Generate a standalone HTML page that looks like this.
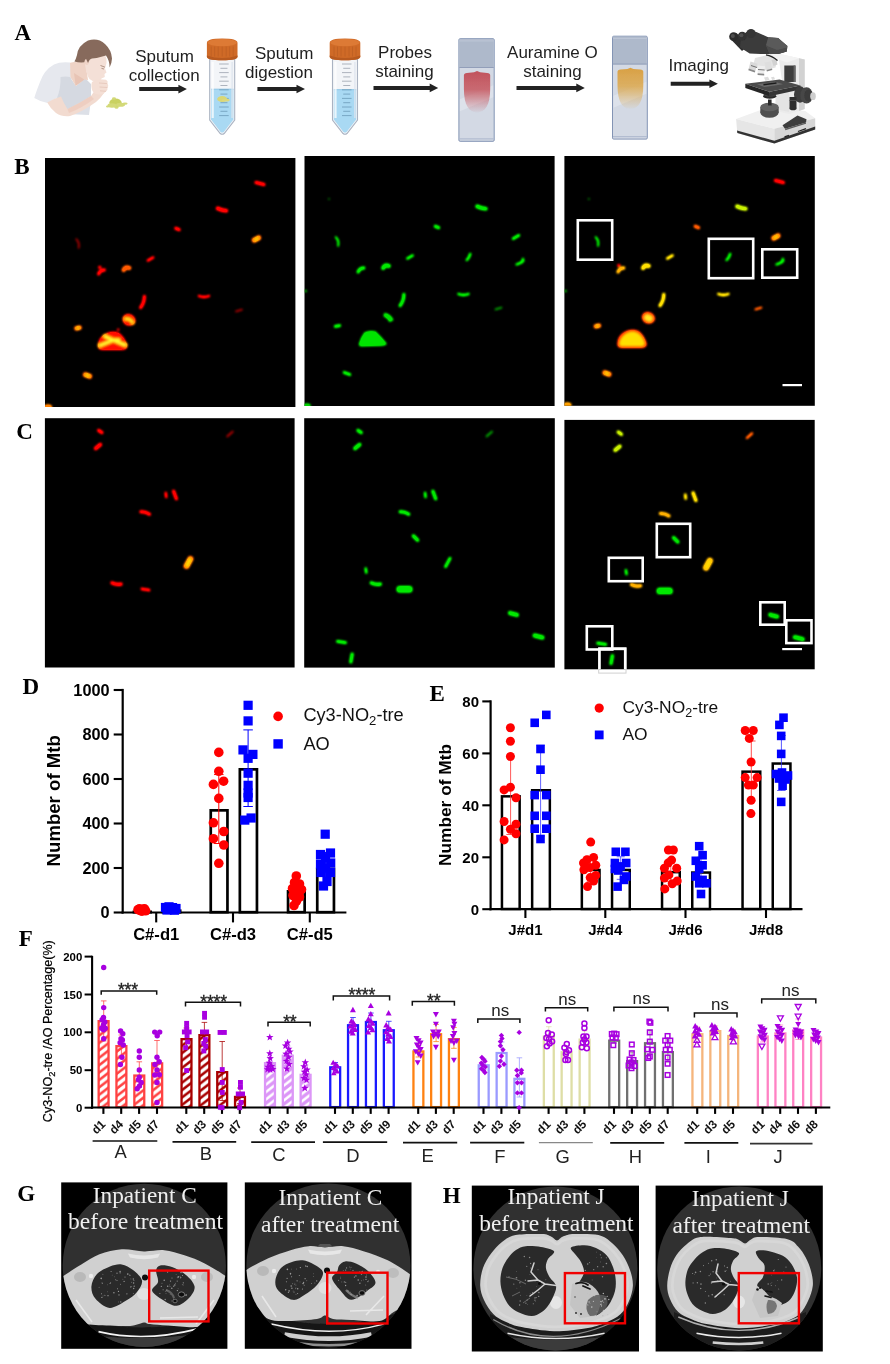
<!DOCTYPE html>
<html><head><meta charset="utf-8"><title>Figure</title>
<style>
html,body{margin:0;padding:0;background:#fff;}
body{width:890px;height:1364px;overflow:hidden;font-family:"Liberation Sans",sans-serif;}
svg{display:block;will-change:transform;}
</style></head><body>
<svg font-family="Liberation Sans, sans-serif" width="890" height="1364" viewBox="0 0 890 1364">
<rect width="890" height="1364" fill="#fff"/>
<defs><filter id="bl" x="-5%" y="-5%" width="110%" height="110%"><feGaussianBlur stdDeviation="0.8"/><feComponentTransfer><feFuncA type="linear" slope="1.5"/></feComponentTransfer></filter>
<clipPath id="cpB1"><rect x="45" y="157.5" width="250.4" height="249.5"/></clipPath>
<clipPath id="cpB2"><rect x="304.5" y="156" width="250.1" height="250"/></clipPath>
<clipPath id="cpB3"><rect x="564.4" y="156" width="250.4" height="249.8"/></clipPath>
<clipPath id="cpC1"><rect x="44.9" y="418.2" width="249.7" height="249.3"/></clipPath>
<clipPath id="cpC2"><rect x="304.2" y="418.2" width="250.6" height="249.4"/></clipPath>
<clipPath id="cpC3"><rect x="564.4" y="419.9" width="250.3" height="249.4"/></clipPath>
</defs>
<rect x="45" y="158" width="250.4" height="249" fill="#000"/>
<g clip-path="url(#cpB1)" filter="url(#bl)">
<path d="M256.1 182.5Q260.0 183.5 263.9 184.5" stroke="#ff0000" stroke-width="3.04" stroke-linecap="round" fill="none"/>
<path d="M217.7 208.3Q221.7 210.5 226.3 210.7" stroke="#ff0000" stroke-width="3.61" stroke-linecap="round" fill="none"/>
<path d="M175.9 228.4Q177.5 229.0 179.1 229.6" stroke="#ff0000" stroke-width="3.04" stroke-linecap="round" fill="none"/>
<path d="M254.3 240.2Q256.5 239.0 258.7 237.8" stroke="#ff5a00" stroke-width="4.75" stroke-linecap="round" fill="none"/>
<path d="M254.8 240.0Q256.5 239.0 258.2 238.0" stroke="#ffe000" stroke-width="2.35" stroke-linecap="round" fill="none"/>
<path d="M76.3 239.2Q79.8 242.9 78.7 247.8" stroke="#7a0000" stroke-width="1.71" stroke-linecap="round" fill="none"/>
<path d="M147.9 260.5Q150.5 259.0 153.1 257.5" stroke="#ff0000" stroke-width="2.4699999999999998" stroke-linecap="round" fill="none"/>
<path d="M98.6 274.0Q100.1 270.0 104.4 270.0" stroke="#ff0000" stroke-width="2.8499999999999996" stroke-linecap="round" fill="none"/>
<path d="M123.7 270.0Q125.5 266.2 129.3 268.0" stroke="#ff5a00" stroke-width="3.8" stroke-linecap="round" fill="none"/>
<path d="M140.6 307.7Q144.4 302.6 144.4 296.3" stroke="#ff0000" stroke-width="2.8499999999999996" stroke-linecap="round" fill="none"/>
<path d="M199.0 296.0Q204.0 298.0 209.0 296.0" stroke="#ff0000" stroke-width="2.28" stroke-linecap="round" fill="none"/>
<path d="M236.1 311.4Q239.0 310.5 241.9 309.6" stroke="#7a0000" stroke-width="1.9" stroke-linecap="round" fill="none"/>
<path d="M76.5 328.3Q78.0 328.0 79.5 327.7" stroke="#ff5a00" stroke-width="4.369999999999999" stroke-linecap="round" fill="none"/>
<path d="M77.0 328.2Q78.0 328.0 79.0 327.8" stroke="#ffe000" stroke-width="1.9699999999999993" stroke-linecap="round" fill="none"/>
<path d="M85.4 374.7Q87.5 375.5 89.6 376.3" stroke="#ff5a00" stroke-width="4.75" stroke-linecap="round" fill="none"/>
<path d="M85.9 374.9Q87.5 375.5 89.1 376.1" stroke="#ffe000" stroke-width="2.35" stroke-linecap="round" fill="none"/>
<path d="M98 346Q98 338 105 334Q112 330 119 333Q125 337 127.3 346Q127.3 350 121 350L103 350Q98 350 98 346Z" fill="#ff0800"/>
<path d="M100.2 345.4L113.3 340.1L124.9 345M105.2 336.5L113.3 340.1L118.7 340.1" stroke="#ff8800" stroke-width="5" fill="none" stroke-linecap="round" stroke-linejoin="round"/>
<path d="M100.2 345.4L113.3 340.1L124.9 345M105.2 336.5L113.3 340.1L118.7 340.1" stroke="#ffff30" stroke-width="2.6" fill="none" stroke-linecap="round" stroke-linejoin="round"/>
<ellipse cx="129" cy="319.8" rx="6.6" ry="5.6" fill="#ff1800" transform="rotate(25 129 319.8)"/>
<path d="M125.4 318.9Q130.5 318.5 132.6 322.5" stroke="#ff8000" stroke-width="4.4" fill="none" stroke-linecap="round"/>
<path d="M125.8 318.9Q130.5 318.7 132.2 322.2" stroke="#ffee20" stroke-width="2.2" fill="none" stroke-linecap="round"/>
<circle cx="118.2" cy="329.8" r="1.2" fill="#e00000"/>
<circle cx="99.8" cy="267.2" r="1.5" fill="#ff0000"/>
<ellipse cx="48" cy="407" rx="4" ry="2.6" fill="#ff8000"/>
</g>
<rect x="304.5" y="156" width="250.1" height="250" fill="#000"/>
<g clip-path="url(#cpB2)" filter="url(#bl)">
<path d="M477.2 206.3Q481.2 208.5 485.8 208.7" stroke="#00e800" stroke-width="3.61" stroke-linecap="round" fill="none"/>
<path d="M435.4 226.4Q437.0 227.0 438.6 227.6" stroke="#00e800" stroke-width="3.04" stroke-linecap="round" fill="none"/>
<path d="M513.2 238.6Q516.0 237.0 518.8 235.4" stroke="#00e800" stroke-width="2.7" stroke-linecap="round" fill="none"/>
<path d="M335.8 237.2Q339.3 240.9 338.2 245.8" stroke="#00e800" stroke-width="1.71" stroke-linecap="round" fill="none"/>
<path d="M407.4 258.5Q410.0 257.0 412.6 255.5" stroke="#00e800" stroke-width="2.4699999999999998" stroke-linecap="round" fill="none"/>
<path d="M358.1 272.0Q359.6 268.0 363.9 268.0" stroke="#00e800" stroke-width="2.8499999999999996" stroke-linecap="round" fill="none"/>
<path d="M383.2 268.0Q385.0 264.2 388.8 266.0" stroke="#00e800" stroke-width="3.8" stroke-linecap="round" fill="none"/>
<path d="M466.8 260.0Q469.4 257.5 470.2 254.0" stroke="#00e800" stroke-width="2.28" stroke-linecap="round" fill="none"/>
<path d="M400.1 305.7Q403.9 300.6 403.9 294.3" stroke="#00e800" stroke-width="2.8499999999999996" stroke-linecap="round" fill="none"/>
<path d="M458.5 294.0Q463.5 296.0 468.5 294.0" stroke="#00e800" stroke-width="2.28" stroke-linecap="round" fill="none"/>
<path d="M495.6 309.4Q498.5 308.5 501.4 307.6" stroke="#007800" stroke-width="1.9" stroke-linecap="round" fill="none"/>
<path d="M335.3 326.4Q337.5 326.0 339.7 325.6" stroke="#00e800" stroke-width="2.7" stroke-linecap="round" fill="none"/>
<path d="M344.2 372.5Q347.0 373.5 349.8 374.5" stroke="#00e800" stroke-width="2.7" stroke-linecap="round" fill="none"/>
<path d="M516.5 264.5Q520.6 263.5 523.5 260.5" stroke="#00e800" stroke-width="2.09" stroke-linecap="round" fill="none"/>
<path d="M328.8 199.0Q329.0 199.0 329.2 199.0" stroke="#007800" stroke-width="1.52" stroke-linecap="round" fill="none"/>
<path d="M359.0 344Q360.5 338 364.5 332.5Q369.5 330 375.5 331.5Q381.5 337 386.5 343.5Q386.5 345.5 380.5 345.8L362.5 346.3Q359.0 346.5 359.0 344Z" fill="#00e400"/>
<path d="M384.5 313Q390.5 314 393.5 320L389.5 322Q387.5 318 383.5 316Z" fill="#00e000"/>
<ellipse cx="307.0" cy="405.5" rx="3.6" ry="2" fill="#00d000"/>
<ellipse cx="305.5" cy="291" rx="1.5" ry="1" fill="#00b000"/>
<path d="M522.0 262.4Q522.5 260.5 523.0 258.6" stroke="#00e800" stroke-width="1.8" stroke-linecap="round" fill="none"/>
</g>
<rect x="564.4" y="156" width="250.4" height="249.8" fill="#000"/>
<g clip-path="url(#cpB3)" filter="url(#bl)">
<path d="M775.5 180.5Q779.4 181.5 783.3 182.5" stroke="#ff0000" stroke-width="3.04" stroke-linecap="round" fill="none"/>
<path d="M737.1 206.3Q741.1 208.5 745.7 208.7" stroke="#c8f000" stroke-width="3.61" stroke-linecap="round" fill="none"/>
<path d="M695.3 226.4Q696.9 227.0 698.5 227.6" stroke="#ff5a00" stroke-width="3.04" stroke-linecap="round" fill="none"/>
<path d="M773.7 238.2Q775.9 237.0 778.1 235.8" stroke="#ff5a00" stroke-width="4.75" stroke-linecap="round" fill="none"/>
<path d="M774.2 238.0Q775.9 237.0 777.6 236.0" stroke="#ffe000" stroke-width="2.35" stroke-linecap="round" fill="none"/>
<path d="M595.7 237.2Q599.2 240.9 598.1 245.8" stroke="#00e800" stroke-width="1.71" stroke-linecap="round" fill="none"/>
<path d="M667.3 258.5Q669.9 257.0 672.5 255.5" stroke="#ffe000" stroke-width="2.4699999999999998" stroke-linecap="round" fill="none"/>
<path d="M618.0 272.0Q619.5 268.0 623.8 268.0" stroke="#ffb000" stroke-width="2.8499999999999996" stroke-linecap="round" fill="none"/>
<path d="M643.1 268.0Q644.9 264.2 648.7 266.0" stroke="#ffe000" stroke-width="3.8" stroke-linecap="round" fill="none"/>
<path d="M726.6 260.0Q729.3 257.5 730.1 254.0" stroke="#00e800" stroke-width="2.28" stroke-linecap="round" fill="none"/>
<path d="M660.0 305.7Q663.8 300.6 663.8 294.3" stroke="#ffe000" stroke-width="2.8499999999999996" stroke-linecap="round" fill="none"/>
<path d="M718.4 294.0Q723.4 296.0 728.4 294.0" stroke="#ffe000" stroke-width="2.28" stroke-linecap="round" fill="none"/>
<path d="M755.5 309.4Q758.4 308.5 761.3 307.6" stroke="#ff5a00" stroke-width="1.9" stroke-linecap="round" fill="none"/>
<path d="M595.9 326.3Q597.4 326.0 598.9 325.7" stroke="#ff5a00" stroke-width="4.369999999999999" stroke-linecap="round" fill="none"/>
<path d="M596.4 326.2Q597.4 326.0 598.4 325.8" stroke="#ffe000" stroke-width="1.9699999999999993" stroke-linecap="round" fill="none"/>
<path d="M604.8 372.7Q606.9 373.5 609.0 374.3" stroke="#ff5a00" stroke-width="4.75" stroke-linecap="round" fill="none"/>
<path d="M605.3 372.9Q606.9 373.5 608.5 374.1" stroke="#ffe000" stroke-width="2.35" stroke-linecap="round" fill="none"/>
<path d="M776.4 264.5Q780.5 263.5 783.4 260.5" stroke="#00e800" stroke-width="2.09" stroke-linecap="round" fill="none"/>
<path d="M588.6 199.0Q588.9 199.0 589.1 199.0" stroke="#007800" stroke-width="1.52" stroke-linecap="round" fill="none"/>
<path d="M617.4 344Q617.4 336 624.4 332Q631.4 328 638.4 331Q644.4 335 646.6999999999999 344Q646.6999999999999 348 640.4 348L622.4 348Q617.4 348 617.4 344Z" fill="#ff3000"/>
<path d="M619.4 344Q620.4 337 626.4 333.5Q631.4 330.5 637.4 333Q642.9 336.5 644.6999999999999 344Q644.4 346 640.4 346L622.4 346Q619.4 346 619.4 344Z" fill="#ffe000"/>
<ellipse cx="648.4" cy="317.8" rx="6.6" ry="5.6" fill="#ff3800" transform="rotate(25 648.4 317.8)"/>
<ellipse cx="648.4" cy="318" rx="4.4" ry="3.2" fill="#ffe820" transform="rotate(25 648.4 318)"/>
<ellipse cx="567.4" cy="405" rx="4" ry="2.6" fill="#ffa000"/>
<ellipse cx="565.4" cy="291" rx="1.5" ry="1" fill="#00b000"/>
<circle cx="618.9" cy="265.5" r="1.6" fill="#ff0000"/>
<path d="M781.9 262.4Q782.4 260.5 782.9 258.6" stroke="#00e800" stroke-width="1.8" stroke-linecap="round" fill="none"/>
</g>
<rect x="44.9" y="418.2" width="249.7" height="249.3" fill="#000"/>
<g clip-path="url(#cpC1)" filter="url(#bl)">
<path d="M98.7 430.4Q100.3 431.5 101.9 432.6" stroke="#ff0000" stroke-width="2.9899999999999998" stroke-linecap="round" fill="none"/>
<path d="M95.7 448.4Q98.0 446.5 100.3 444.6" stroke="#ff0000" stroke-width="3.4499999999999997" stroke-linecap="round" fill="none"/>
<path d="M227.4 436.3Q230.0 434.0 232.6 431.7" stroke="#7a0000" stroke-width="2.07" stroke-linecap="round" fill="none"/>
<path d="M165.8 493.0Q166.0 495.0 166.2 497.0" stroke="#ff0000" stroke-width="2.3" stroke-linecap="round" fill="none"/>
<path d="M173.6 491.2Q175.0 495.0 176.4 498.8" stroke="#ff0000" stroke-width="2.9899999999999998" stroke-linecap="round" fill="none"/>
<path d="M140.9 511.8Q145.6 511.5 149.5 514.2" stroke="#ff0000" stroke-width="2.9899999999999998" stroke-linecap="round" fill="none"/>
<path d="M186.6 566.0Q188.5 562.5 190.4 559.0" stroke="#ff5a00" stroke-width="5.75" stroke-linecap="round" fill="none"/>
<path d="M186.9 565.6Q188.5 562.5 190.1 559.4" stroke="#ffe000" stroke-width="3.35" stroke-linecap="round" fill="none"/>
<path d="M112.0 582.9Q116.3 585.1 121.0 584.1" stroke="#ff0000" stroke-width="3.2199999999999998" stroke-linecap="round" fill="none"/>
<path d="M142.0 589.0Q145.5 589.5 149.0 590.0" stroke="#ff0000" stroke-width="2.76" stroke-linecap="round" fill="none"/>
</g>
<rect x="304.2" y="418.2" width="250.6" height="249.4" fill="#000"/>
<g clip-path="url(#cpC2)" filter="url(#bl)">
<path d="M358.0 430.4Q359.6 431.5 361.2 432.6" stroke="#00e800" stroke-width="2.9899999999999998" stroke-linecap="round" fill="none"/>
<path d="M355.0 448.4Q357.3 446.5 359.6 444.6" stroke="#00e800" stroke-width="3.4499999999999997" stroke-linecap="round" fill="none"/>
<path d="M486.7 436.3Q489.3 434.0 491.9 431.7" stroke="#007800" stroke-width="2.07" stroke-linecap="round" fill="none"/>
<path d="M425.1 493.0Q425.3 495.0 425.5 497.0" stroke="#00e800" stroke-width="2.3" stroke-linecap="round" fill="none"/>
<path d="M432.9 491.2Q434.3 495.0 435.7 498.8" stroke="#00e800" stroke-width="2.9899999999999998" stroke-linecap="round" fill="none"/>
<path d="M400.2 511.8Q404.9 511.5 408.8 514.2" stroke="#00e800" stroke-width="2.9899999999999998" stroke-linecap="round" fill="none"/>
<path d="M445.6 566.7Q447.8 562.5 450.0 558.3" stroke="#00e800" stroke-width="2.7" stroke-linecap="round" fill="none"/>
<path d="M365.7 568.5Q366.0 570.5 366.3 572.5" stroke="#00e800" stroke-width="2.3" stroke-linecap="round" fill="none"/>
<path d="M371.3 582.9Q375.6 585.1 380.3 584.1" stroke="#00e800" stroke-width="3.2199999999999998" stroke-linecap="round" fill="none"/>
<path d="M399.8 589.2Q404.5 589.2 409.2 589.2" stroke="#00e800" stroke-width="6.4399999999999995" stroke-linecap="round" fill="none"/>
<path d="M413.4 535.9Q415.5 538.0 417.6 540.1" stroke="#00e800" stroke-width="3.2199999999999998" stroke-linecap="round" fill="none"/>
<path d="M337.5 641.4Q341.5 642.0 345.5 642.6" stroke="#00e800" stroke-width="2.76" stroke-linecap="round" fill="none"/>
<path d="M350.8 661.9Q351.5 658.0 352.2 654.1" stroke="#00e800" stroke-width="2.9899999999999998" stroke-linecap="round" fill="none"/>
<path d="M510.1 613.1Q513.5 614.0 516.9 614.9" stroke="#00e800" stroke-width="3.9099999999999997" stroke-linecap="round" fill="none"/>
<path d="M534.6 635.5Q538.5 636.5 542.4 637.5" stroke="#00e800" stroke-width="3.9099999999999997" stroke-linecap="round" fill="none"/>
</g>
<rect x="564.4" y="419.9" width="250.3" height="249.4" fill="#000"/>
<g clip-path="url(#cpC3)" filter="url(#bl)">
<path d="M618.2 432.1Q619.8 433.2 621.4 434.3" stroke="#c8f000" stroke-width="2.9899999999999998" stroke-linecap="round" fill="none"/>
<path d="M615.2 450.1Q617.5 448.2 619.8 446.3" stroke="#c8f000" stroke-width="3.4499999999999997" stroke-linecap="round" fill="none"/>
<path d="M746.9 438.0Q749.5 435.7 752.1 433.4" stroke="#ff5a00" stroke-width="2.07" stroke-linecap="round" fill="none"/>
<path d="M685.3 494.7Q685.5 496.7 685.7 498.7" stroke="#ffe000" stroke-width="2.3" stroke-linecap="round" fill="none"/>
<path d="M693.1 492.9Q694.5 496.7 695.9 500.5" stroke="#ffe000" stroke-width="2.9899999999999998" stroke-linecap="round" fill="none"/>
<path d="M660.4 513.5Q665.1 513.2 669.0 515.9" stroke="#ffb000" stroke-width="2.9899999999999998" stroke-linecap="round" fill="none"/>
<path d="M706.1 567.7Q708.0 564.2 709.9 560.7" stroke="#ffb000" stroke-width="5.75" stroke-linecap="round" fill="none"/>
<path d="M706.4 567.3Q708.0 564.2 709.6 561.1" stroke="#ffe000" stroke-width="3.35" stroke-linecap="round" fill="none"/>
<path d="M625.9 570.2Q626.2 572.2 626.5 574.2" stroke="#00e800" stroke-width="2.3" stroke-linecap="round" fill="none"/>
<path d="M631.5 584.6Q635.8 586.8 640.5 585.8" stroke="#ffb000" stroke-width="3.2199999999999998" stroke-linecap="round" fill="none"/>
<path d="M659.9 590.9Q664.7 590.9 669.4 590.9" stroke="#00e800" stroke-width="6.4399999999999995" stroke-linecap="round" fill="none"/>
<path d="M673.6 537.6Q675.7 539.7 677.8 541.8" stroke="#00e800" stroke-width="3.2199999999999998" stroke-linecap="round" fill="none"/>
<path d="M597.7 643.1Q601.7 643.7 605.7 644.3" stroke="#00e800" stroke-width="2.76" stroke-linecap="round" fill="none"/>
<path d="M611.0 663.6Q611.7 659.7 612.4 655.8" stroke="#00e800" stroke-width="2.9899999999999998" stroke-linecap="round" fill="none"/>
<path d="M770.3 614.8Q773.7 615.7 777.1 616.6" stroke="#00e800" stroke-width="3.9099999999999997" stroke-linecap="round" fill="none"/>
<path d="M794.8 637.2Q798.7 638.2 802.6 639.2" stroke="#00e800" stroke-width="3.9099999999999997" stroke-linecap="round" fill="none"/>
</g>
<rect x="577.8" y="220.3" width="34.4" height="39.4" fill="none" stroke="#fff" stroke-width="2.6"/>
<rect x="708.8" y="238.8" width="44.4" height="39.4" fill="none" stroke="#fff" stroke-width="2.6"/>
<rect x="762.3" y="249.3" width="34.9" height="28.4" fill="none" stroke="#fff" stroke-width="2.6"/>
<rect x="782.5" y="384" width="19.5" height="2.2" fill="#fff"/>
<rect x="598.7" y="647.7" width="27.3" height="25.4" fill="none" stroke="#d0d0d0" stroke-width="1"/>
<g clip-path="url(#cpC3)">
<rect x="656.8" y="523.8" width="33.4" height="33.4" fill="none" stroke="#fff" stroke-width="2.6"/>
<rect x="608.8" y="557.8" width="33.9" height="23.4" fill="none" stroke="#fff" stroke-width="2.6"/>
<rect x="760.3" y="602.3" width="24.4" height="22.4" fill="none" stroke="#fff" stroke-width="2.6"/>
<rect x="786.3" y="620.3" width="25.2" height="22.8" fill="none" stroke="#fff" stroke-width="2.6"/>
<rect x="586.8" y="626.3" width="25.5" height="23.2" fill="none" stroke="#fff" stroke-width="2.6"/>
<rect x="599.5" y="648.9" width="25.7" height="23.1" fill="none" stroke="#fff" stroke-width="2.6"/>
</g>
<rect x="782.2" y="648" width="19.8" height="2.2" fill="#fff"/>
<text transform="translate(14.2 173.7) scale(0.96 1)" font-family="Liberation Serif, serif" font-weight="bold" font-size="24" fill="#000">B</text>
<text transform="translate(16.2 439) scale(0.96 1)" font-family="Liberation Serif, serif" font-weight="bold" font-size="24" fill="#000">C</text>
<defs><filter id="soft" x="-10%" y="-10%" width="120%" height="120%"><feGaussianBlur stdDeviation="0.45"/></filter></defs>
<text transform="translate(14.6 39.6) scale(0.96 1)" font-family="Liberation Serif, serif" font-weight="bold" font-size="24" fill="#000">A</text>
<g filter="url(#soft)">
<path d="M69.5 62.4Q60 61.5 54 64.5Q44 70 40 82Q36 92 34.3 98Q40 101.5 47.5 103Q56 98 62 96L66 80L72 79L70 62.6Z" fill="#e6e8ee"/>
<path d="M60.5 77Q66 76 70 77L76 86L85 78L91 84L91 100Q82 108 70 113L66 114Q60 106 57 98Q61 88 60.5 77Z" fill="#d5d9e1"/>
<path d="M57 98Q60 106 66 114L89 115L90.5 104Q80 110 70 113Z" fill="#dde0e7"/>
<path d="M70 62.8L85 60L88 80L84.5 79.5L75.7 86L70.5 77Z" fill="#efd3c6"/>
<path d="M74 73L84.3 79.4L75.7 85.8Z" fill="#e8c4b5"/>
<path d="M85 59Q92 56 105 55Q107.5 60 106 65L105 68.5L106.5 72.5L104.5 74L104.8 77L101.5 78.5L99.5 81.5Q93 82.5 89.5 79Q85 73 85 59Z" fill="#f4e0d7"/>
<ellipse cx="86.8" cy="61.5" rx="2.3" ry="3.4" fill="#f0d4c8"/>
<path d="M100.5 65.5L105 67.2M101.5 68.4L104 69" stroke="#a08070" stroke-width="0.8" fill="none"/>
<path d="M74.4 61.5Q76 59 77 55Q78 45.5 88 40.5Q98 37.5 105 44Q111.5 50 112 58.5Q111.8 63.5 109.6 67.5Q109.8 61 106 55.5Q98 58 92 58.6Q89.5 59 88 63L86 58.8Q84.5 60 84.3 62.3Q79 62.8 74.4 61.5Z" fill="#876b5b"/>
<path d="M47.2 102.5Q54 98.5 61 96.5Q64 104 67.5 109Q80 103 91 96Q94 92 96 88L104 93Q100 99 96 102Q82 112 70 116Q62 117 56 113Q50 108 47.2 102.5Z" fill="#f2dbd0"/>
<path d="M67.5 109Q80 103 91 96L94 99Q82 108 69 113Z" fill="#ecc9bb" opacity="0.7"/>
<path d="M92 82Q95 79 100 79.2L106 79.8Q108.3 81 107.6 83.5Q108.8 85.5 107.5 87.5Q108 90 106 91.5Q104 94 100 94.5Q95 95 92.5 91Q90.5 86 92 82Z" fill="#f4dfd5"/>
<path d="M99 83L107 83.6M99.5 87L107.5 87.5M100 90.8L106 91.3" stroke="#e3c2b4" stroke-width="0.7" fill="none"/>
</g>
<g filter="url(#soft)" fill="#d3d978">
<ellipse cx="115.5" cy="102.8" rx="6.2" ry="4.4" fill="#c9d162"/>
<ellipse cx="112" cy="105.5" rx="4.5" ry="2.2"/><ellipse cx="120.5" cy="104.8" rx="4.5" ry="2"/><ellipse cx="125" cy="103.6" rx="2.6" ry="1.2"/>
<ellipse cx="116.5" cy="107.5" rx="2" ry="1.2"/><ellipse cx="107.5" cy="106.5" rx="1.5" ry="1"/><ellipse cx="114" cy="98.5" rx="2" ry="1.3"/>
</g>
<text x="164.5" y="61.7" font-size="17" text-anchor="middle" fill="#1f1f1f" font-weight="normal" >Sputum</text>
<text x="164.2" y="80.8" font-size="17" text-anchor="middle" fill="#1f1f1f" font-weight="normal" >collection</text>
<path d="M139.2 87.1H178.4V84.8L186.9 89.1L178.4 93.39999999999999V91.1H139.2Z" fill="#222"/>
<g>
<path d="M209.7 59V120L220.2 133.5Q222.2 135 224.2 133.5L234.7 120V59Z" fill="#f3f5f8" stroke="#aab3c2" stroke-width="1.1"/>
<path d="M211.0 89.2V119.6L220.6 132Q222.2 133.2 223.79999999999998 132L233.39999999999998 119.6V89.2Z" fill="#a9d9f3"/>
<path d="M211.0 89.2H233.39999999999998" stroke="#8ec6e6" stroke-width="1"/>
<path d="M212.7 62V118" stroke="#fff" stroke-width="2.2" opacity="0.75"/>
<path d="M232.1 62V118" stroke="#dfe5ee" stroke-width="1.6" opacity="0.8"/>
<path d="M219.2 64.0H228.7" stroke="#9aa2ad" stroke-width="0.8"/>
<path d="M220.45 68.3H227.45" stroke="#9aa2ad" stroke-width="0.8"/>
<path d="M219.2 72.6H228.7" stroke="#9aa2ad" stroke-width="0.8"/>
<path d="M220.45 76.9H227.45" stroke="#9aa2ad" stroke-width="0.8"/>
<path d="M219.2 81.2H228.7" stroke="#9aa2ad" stroke-width="0.8"/>
<path d="M220.45 85.5H227.45" stroke="#9aa2ad" stroke-width="0.8"/>
<path d="M219.2 89.8H228.7" stroke="#6c9ab8" stroke-width="0.8"/>
<path d="M220.45 94.1H227.45" stroke="#6c9ab8" stroke-width="0.8"/>
<path d="M219.2 98.4H228.7" stroke="#6c9ab8" stroke-width="0.8"/>
<path d="M220.45 102.7H227.45" stroke="#6c9ab8" stroke-width="0.8"/>
<path d="M219.2 107.0H228.7" stroke="#6c9ab8" stroke-width="0.8"/>
<path d="M220.45 111.3H227.45" stroke="#6c9ab8" stroke-width="0.8"/>
<path d="M219.2 115.6H228.7" stroke="#6c9ab8" stroke-width="0.8"/>
<g filter="url(#soft)"><ellipse cx="222.2" cy="99" rx="5" ry="3" fill="#d9d774"/><ellipse cx="225.7" cy="100" rx="4" ry="1.6" fill="#dcd87c"/></g>
<path d="M206.89999999999998 43Q206.89999999999998 38.6 222.2 38.6Q237.5 38.6 237.5 43V56.5Q237.5 60.3 222.2 60.3Q206.89999999999998 60.3 206.89999999999998 56.5Z" fill="#cf6a27"/>
<ellipse cx="222.2" cy="42.6" rx="14.700000000000001" ry="3.6" fill="#dd7a35"/>
<path d="M206.89999999999998 55.5Q222.2 60.5 237.5 55.5V56.8Q237.5 60.3 222.2 60.3Q206.89999999999998 60.3 206.89999999999998 56.8Z" fill="#b85a1f"/>
<path d="M211.2 46.5V56.5" stroke="#bb5d22" stroke-width="0.9" opacity="0.8"/>
<path d="M214.7 46.5V56.5" stroke="#bb5d22" stroke-width="0.9" opacity="0.8"/>
<path d="M218.2 46.5V56.5" stroke="#bb5d22" stroke-width="0.9" opacity="0.8"/>
<path d="M222.2 46.5V56.5" stroke="#bb5d22" stroke-width="0.9" opacity="0.8"/>
<path d="M226.2 46.5V56.5" stroke="#bb5d22" stroke-width="0.9" opacity="0.8"/>
<path d="M229.7 46.5V56.5" stroke="#bb5d22" stroke-width="0.9" opacity="0.8"/>
<path d="M233.2 46.5V56.5" stroke="#bb5d22" stroke-width="0.9" opacity="0.8"/>
</g>
<text x="284.2" y="58.7" font-size="17" text-anchor="middle" fill="#1f1f1f" font-weight="normal" >Sputum</text>
<text x="279" y="78" font-size="17" text-anchor="middle" fill="#1f1f1f" font-weight="normal" >digestion</text>
<path d="M257.4 87H296.5V84.7L305 89L296.5 93.3V91H257.4Z" fill="#222"/>
<g>
<path d="M332.5 59V120L343 133.5Q345 135 347 133.5L357.5 120V59Z" fill="#f3f5f8" stroke="#aab3c2" stroke-width="1.1"/>
<path d="M333.8 89.7V119.6L343.4 132Q345 133.2 346.6 132L356.2 119.6V89.7Z" fill="#a9d9f3"/>
<path d="M333.8 89.7H356.2" stroke="#8ec6e6" stroke-width="1"/>
<path d="M335.5 62V118" stroke="#fff" stroke-width="2.2" opacity="0.75"/>
<path d="M354.9 62V118" stroke="#dfe5ee" stroke-width="1.6" opacity="0.8"/>
<path d="M342.0 64.0H351.5" stroke="#9aa2ad" stroke-width="0.8"/>
<path d="M343.25 68.3H350.25" stroke="#9aa2ad" stroke-width="0.8"/>
<path d="M342.0 72.6H351.5" stroke="#9aa2ad" stroke-width="0.8"/>
<path d="M343.25 76.9H350.25" stroke="#9aa2ad" stroke-width="0.8"/>
<path d="M342.0 81.2H351.5" stroke="#9aa2ad" stroke-width="0.8"/>
<path d="M343.25 85.5H350.25" stroke="#9aa2ad" stroke-width="0.8"/>
<path d="M342.0 89.8H351.5" stroke="#6c9ab8" stroke-width="0.8"/>
<path d="M343.25 94.1H350.25" stroke="#6c9ab8" stroke-width="0.8"/>
<path d="M342.0 98.4H351.5" stroke="#6c9ab8" stroke-width="0.8"/>
<path d="M343.25 102.7H350.25" stroke="#6c9ab8" stroke-width="0.8"/>
<path d="M342.0 107.0H351.5" stroke="#6c9ab8" stroke-width="0.8"/>
<path d="M343.25 111.3H350.25" stroke="#6c9ab8" stroke-width="0.8"/>
<path d="M342.0 115.6H351.5" stroke="#6c9ab8" stroke-width="0.8"/>
<path d="M329.7 43Q329.7 38.6 345 38.6Q360.3 38.6 360.3 43V56.5Q360.3 60.3 345 60.3Q329.7 60.3 329.7 56.5Z" fill="#cf6a27"/>
<ellipse cx="345" cy="42.6" rx="14.700000000000001" ry="3.6" fill="#dd7a35"/>
<path d="M329.7 55.5Q345 60.5 360.3 55.5V56.8Q360.3 60.3 345 60.3Q329.7 60.3 329.7 56.8Z" fill="#b85a1f"/>
<path d="M334 46.5V56.5" stroke="#bb5d22" stroke-width="0.9" opacity="0.8"/>
<path d="M337.5 46.5V56.5" stroke="#bb5d22" stroke-width="0.9" opacity="0.8"/>
<path d="M341 46.5V56.5" stroke="#bb5d22" stroke-width="0.9" opacity="0.8"/>
<path d="M345 46.5V56.5" stroke="#bb5d22" stroke-width="0.9" opacity="0.8"/>
<path d="M349 46.5V56.5" stroke="#bb5d22" stroke-width="0.9" opacity="0.8"/>
<path d="M352.5 46.5V56.5" stroke="#bb5d22" stroke-width="0.9" opacity="0.8"/>
<path d="M356 46.5V56.5" stroke="#bb5d22" stroke-width="0.9" opacity="0.8"/>
</g>
<text x="405" y="58.2" font-size="17" text-anchor="middle" fill="#1f1f1f" font-weight="normal" >Probes</text>
<text x="404.5" y="77.3" font-size="17" text-anchor="middle" fill="#1f1f1f" font-weight="normal" >staining</text>
<path d="M373.5 85.9H429.7V83.60000000000001L438.2 87.9L429.7 92.2V89.9H373.5Z" fill="#222"/>
<rect x="458.9" y="38.7" width="35.30000000000001" height="102.60000000000001" rx="1.2" fill="#d3d9e4" stroke="#8394b4" stroke-width="1"/>
<path d="M459.4 138.9H493.7" stroke="#aab6cc" stroke-width="1"/>
<rect x="459.4" y="39.2" width="34.30000000000001" height="28.5" fill="#aeb9cb"/>
<path d="M459.4 67.5H493.7" stroke="#8d9ab5" stroke-width="0.9"/>
<path d="M459.4 40.900000000000006H493.7" stroke="#c2cbda" stroke-width="1" opacity="0.8"/>
<path d="M459.9 99.2L493.2 85.2V97.2L459.9 111.2Z" fill="#e6eaf1" opacity="0.55"/>
<defs><linearGradient id="g458" x1="0" y1="0" x2="0" y2="1"><stop offset="0" stop-color="#c1525c"/><stop offset="0.45" stop-color="#c86068" stop-opacity="0.92"/><stop offset="0.8" stop-color="#c86068" stop-opacity="0.35"/><stop offset="1" stop-color="#c86068" stop-opacity="0.05"/></linearGradient></defs>
<path filter="url(#soft)" d="M463.9 75.2Q463.9 73.2 466.9 72.9L474.04999999999995 72.3L477.04999999999995 71.10000000000001L480.04999999999995 72.3L487.2 72.9Q490.2 73.2 490.2 75.2V88.7C490.2 105.2 485.04999999999995 112.2 477.04999999999995 112.2C469.04999999999995 112.2 463.9 105.2 463.9 88.7Z" fill="url(#g458)"/>
<text x="552.4" y="58.2" font-size="17" text-anchor="middle" fill="#1f1f1f" font-weight="normal" >Auramine O</text>
<text x="552.5" y="77.3" font-size="17" text-anchor="middle" fill="#1f1f1f" font-weight="normal" >staining</text>
<path d="M516.5 85.9H576.3V83.60000000000001L584.8 87.9L576.3 92.2V89.9H516.5Z" fill="#222"/>
<rect x="612.5" y="36.2" width="34.799999999999955" height="102.89999999999999" rx="1.2" fill="#d3d9e4" stroke="#8394b4" stroke-width="1"/>
<path d="M613.0 136.7H646.8" stroke="#aab6cc" stroke-width="1"/>
<rect x="613.0" y="36.7" width="33.799999999999955" height="27.599999999999994" fill="#aeb9cb"/>
<path d="M613.0 64.1H646.8" stroke="#8d9ab5" stroke-width="0.9"/>
<path d="M613.0 38.400000000000006H646.8" stroke="#c2cbda" stroke-width="1" opacity="0.8"/>
<path d="M613.5 95.8L646.3 81.8V93.8L613.5 107.8Z" fill="#e6eaf1" opacity="0.55"/>
<defs><linearGradient id="g612" x1="0" y1="0" x2="0" y2="1"><stop offset="0" stop-color="#d9a043"/><stop offset="0.45" stop-color="#dcac58" stop-opacity="0.92"/><stop offset="0.8" stop-color="#dcac58" stop-opacity="0.35"/><stop offset="1" stop-color="#dcac58" stop-opacity="0.05"/></linearGradient></defs>
<path filter="url(#soft)" d="M617.5 71.8Q617.5 69.8 620.5 69.5L627.4 68.89999999999999L630.4 67.7L633.4 68.89999999999999L640.3 69.5Q643.3 69.8 643.3 71.8V85.3C643.3 101.8 638.4 108.8 630.4 108.8C622.4 108.8 617.5 101.8 617.5 85.3Z" fill="url(#g612)"/>
<text x="698.7" y="71.1" font-size="17" text-anchor="middle" fill="#1f1f1f" font-weight="normal" >Imaging</text>
<path d="M670.7 81.7H709.4V79.4L717.9 83.7L709.4 88.0V85.7H670.7Z" fill="#222"/>
<g filter="url(#soft)">
<path d="M736.1 118.9L774.4 128.8L815.2 118.3L805.3 110.9L770 106.5Z" fill="#f0f0f0"/>
<path d="M736.1 118.9L774.4 128.8V143.6L737.3 133.1Z" fill="#e6e6e6"/>
<path d="M774.4 128.8L815.2 118.3V129.4L774.4 143.6Z" fill="#d6d6d6"/>
<path d="M737 130.4L774.4 140.8L815.2 126.6V129.4L774.4 143.6L737.3 133.1Z" fill="#333"/>
<path d="M782.5 125.2L797.5 115.6L806.5 119.2L806 122.5L785 128.8Z" fill="#3c3c3c"/>
<path d="M785 128.8L806 122.5V123.8L785.3 130.2Z" fill="#5a5a5a"/>
<path d="M798 131.5L806 128.6M784.5 136.8L789 135.3" stroke="#222" stroke-width="1.3"/>
<path d="M778.1 53.4L804.7 59.6V109L789.5 114L776 111V98L784 95Z" fill="#ebebeb"/>
<path d="M799 58.3L804.7 59.6V109L799 110.9Z" fill="#d2d2d2"/>
<path d="M765 54.5L778.1 53.4L799 58.3L787 62.5Z" fill="#f3f3f3"/>
<path d="M784.3 65.5H795.5V82H784.3Z" fill="#3d3d3d"/>
<path d="M793.6 65.5H795.5V82H793.6Z" fill="#666"/>
<path d="M775.5 92H789V112L775.5 109Z" fill="#e4e4e4"/>
<ellipse cx="769.5" cy="112.6" rx="9.2" ry="5.2" fill="#4f4f4f"/>
<path d="M760.3 107H778.7V112.6H760.3Z" fill="#4f4f4f"/>
<ellipse cx="769.5" cy="107" rx="9.2" ry="4.2" fill="#626262"/>
<path d="M768 99.5H771.6V105.5H768Z" fill="#2b2b2b"/>
<ellipse cx="769.7" cy="96.3" rx="6.6" ry="2.4" fill="#2b2b2b"/>
<ellipse cx="769.7" cy="94.6" rx="6.2" ry="2" fill="#444"/>
<path d="M745.3 83.8L779.5 79.5L800.5 85.6L769.5 91.8Z" fill="#4c4c4c"/>
<path d="M745.3 83.8L769.5 91.8V96.2L745.3 88Z" fill="#282828"/>
<path d="M769.5 91.8L800.5 85.6V89.6L769.5 96.2Z" fill="#353535"/>
<path d="M757 84.3L775 81.8L783 84.2L764.5 87Z" fill="#6a6a6a"/>
<path d="M763.5 84.8L776.5 82.9" stroke="#1e1e1e" stroke-width="1.5"/>
<path d="M764 77.5L768 76.7L769.5 80L765.5 81ZM771 77.2L774 76.8L775 79.3L772.2 80Z" fill="#dcdcdc"/>
<ellipse cx="800" cy="94.5" rx="6" ry="8.2" fill="#3c3c3c"/>
<ellipse cx="806.5" cy="95.4" rx="6.2" ry="8.2" fill="#474747"/>
<ellipse cx="808.5" cy="95.6" rx="4.2" ry="6" fill="#3a3a3a"/>
<ellipse cx="813" cy="96.2" rx="2.8" ry="3.9" fill="#cdcdcd"/>
<path d="M789.5 97H796.5V108.5H789.5Z" fill="#2f2f2f"/>
<ellipse cx="793" cy="108.5" rx="3.5" ry="1.8" fill="#2f2f2f"/>
<path d="M789.5 100.5H796.5" stroke="#555" stroke-width="0.8"/>
<path d="M755 58L771 54.2L777.5 60L775.5 67.5L763 71L753 66Z" fill="#e3e3e3"/>
<path d="M750.5 61.5L757.5 63.8L755.3 70.8L748.8 68.5Z" fill="#d9d9d9"/><path d="M748.8 68.5L755.3 70.8L754.8 72.6L748.3 70.2Z" fill="#8a8a8a"/>
<path d="M757.8 65.5L765 66.3L764.2 73.8L757.6 73.3Z" fill="#eeeeee"/><path d="M757.6 73.3L764.2 73.8V75.6L757.6 75.1Z" fill="#888"/>
<path d="M764.5 62.5L770.5 61.5L772 68.5L766.5 70Z" fill="#dedede"/><path d="M766.5 70L772 68.5L772.3 70.1L766.9 71.6Z" fill="#888"/>
<path d="M771.5 60L776 58.7L777.5 64.5L773.5 66Z" fill="#d2d2d2"/>
<path d="M751 65.5L757 67.5M758 69.5L764.6 70" stroke="#444" stroke-width="0.7"/>
<path d="M766 54.8Q772.5 56 777.5 60.5" stroke="#222" stroke-width="1.2" fill="none"/>
<path d="M731 39.5L736.5 33L748.5 45.5L742 51Z" fill="#2e2e2e"/>
<path d="M739.5 38.5L745 32.5L757 44.5L750 50.5Z" fill="#383838"/>
<path d="M746.6 31.7L755.8 31.7L768.2 37.3L778.1 37.9L787.4 46L786.7 51.5L778.1 54L760.8 54L749.7 53.4L739.8 47.2L741 38Z" fill="#3a3a3a"/>
<path d="M768.2 37.3L778.1 37.9L787.4 46L786.7 51.5L778.1 54L769.5 53.8L766 45Z" fill="#5a5a5a"/>
<path d="M766 45.5L769.5 53.8L778.1 54L786.7 51.5L787.2 47.5L777 50Z" fill="#4b4b4b"/>
<circle cx="733.6" cy="36.7" r="4.4" fill="#2a2a2a"/><circle cx="742.2" cy="36.1" r="4.4" fill="#303030"/>
<circle cx="732.8" cy="35.9" r="2" fill="#4e4e4e"/><circle cx="741.4" cy="35.3" r="2" fill="#505050"/>
<circle cx="751" cy="33.5" r="4.6" fill="#353535"/>
</g>
<text transform="translate(22.6 693.7) scale(0.96 1)" font-family="Liberation Serif, serif" font-weight="bold" font-size="24" fill="#000">D</text>
<rect x="133.95" y="911.85" width="16.70" height="0.35" fill="#fff" stroke="#000" stroke-width="2.7"/>
<rect x="163.05" y="910.74" width="17.10" height="1.47" fill="#fff" stroke="#000" stroke-width="2.7"/>
<rect x="210.75" y="810.35" width="16.70" height="101.85" fill="#fff" stroke="#000" stroke-width="2.7"/>
<rect x="239.85" y="769.35" width="17.10" height="142.85" fill="#fff" stroke="#000" stroke-width="2.7"/>
<rect x="288.05" y="891.35" width="16.60" height="20.85" fill="#fff" stroke="#000" stroke-width="2.7"/>
<rect x="317.25" y="868.95" width="16.70" height="43.25" fill="#fff" stroke="#000" stroke-width="2.7"/>
<path d="M122.7 688.9V913.6" stroke="#000" stroke-width="2.2"/>
<path d="M121.60000000000001 912.5H346.4" stroke="#000" stroke-width="2.2"/>
<path d="M113.7 912.5H122.7" stroke="#000" stroke-width="2.1"/>
<text x="109.6" y="918.4" font-size="16.3" font-weight="bold" text-anchor="end" fill="#000">0</text>
<path d="M113.7 868.0H122.7" stroke="#000" stroke-width="2.1"/>
<text x="109.6" y="873.9" font-size="16.3" font-weight="bold" text-anchor="end" fill="#000">200</text>
<path d="M113.7 823.5H122.7" stroke="#000" stroke-width="2.1"/>
<text x="109.6" y="829.4" font-size="16.3" font-weight="bold" text-anchor="end" fill="#000">400</text>
<path d="M113.7 779.0H122.7" stroke="#000" stroke-width="2.1"/>
<text x="109.6" y="784.9" font-size="16.3" font-weight="bold" text-anchor="end" fill="#000">600</text>
<path d="M113.7 734.5H122.7" stroke="#000" stroke-width="2.1"/>
<text x="109.6" y="740.4" font-size="16.3" font-weight="bold" text-anchor="end" fill="#000">800</text>
<path d="M113.7 690.0H122.7" stroke="#000" stroke-width="2.1"/>
<text x="109.6" y="695.9" font-size="16.3" font-weight="bold" text-anchor="end" fill="#000">1000</text>
<path d="M156.2 912.5V922.4" stroke="#000" stroke-width="2.1"/>
<text x="156.2" y="940" font-size="16.6" font-weight="bold" text-anchor="middle" fill="#000">C#-d1</text>
<path d="M233.0 912.5V922.4" stroke="#000" stroke-width="2.1"/>
<text x="233.0" y="940" font-size="16.6" font-weight="bold" text-anchor="middle" fill="#000">C#-d3</text>
<path d="M309.8 912.5V922.4" stroke="#000" stroke-width="2.1"/>
<text x="309.8" y="940" font-size="16.6" font-weight="bold" text-anchor="middle" fill="#000">C#-d5</text>
<text transform="translate(60.1 800.8) rotate(-90)" font-size="18.6" font-weight="bold" text-anchor="middle" fill="#000">Number of Mtb</text>
<path d="M218.8 774.55V843.525M214.05 774.55H223.55M214.05 843.525H223.55" stroke="#ff0000" stroke-width="1.0" fill="none" opacity="1"/>
<path d="M248.1 729.9V806.5M243.35 729.9H252.85M243.35 806.5H252.85" stroke="#0000ff" stroke-width="1.0" fill="none" opacity="1"/>
<path d="M296.4 881.35V900.93M292.4 881.35H300.4M292.4 900.93H300.4" stroke="#ff0000" stroke-width="1.0" fill="none" opacity="1"/>
<path d="M325.6 852.425V883.575M321.6 852.425H329.6M321.6 883.575H329.6" stroke="#0000ff" stroke-width="1.0" fill="none" opacity="1"/>
<circle cx="218.8" cy="752.4" r="4.8" fill="#ff0000"/>
<circle cx="218.8" cy="771.3" r="4.8" fill="#ff0000"/>
<circle cx="223.6" cy="781.2" r="4.8" fill="#ff0000"/>
<circle cx="213.4" cy="784.4" r="4.8" fill="#ff0000"/>
<circle cx="218.8" cy="798.4" r="4.8" fill="#ff0000"/>
<circle cx="213.4" cy="822.8" r="4.8" fill="#ff0000"/>
<circle cx="223.8" cy="831.5" r="4.8" fill="#ff0000"/>
<circle cx="213.4" cy="838.7" r="4.8" fill="#ff0000"/>
<circle cx="223.8" cy="845.0" r="4.8" fill="#ff0000"/>
<circle cx="218.8" cy="863.3" r="4.8" fill="#ff0000"/>
<rect x="243.5" y="700.7" width="9.2" height="9.2" fill="#0000ff"/>
<rect x="243.5" y="716.3" width="9.2" height="9.2" fill="#0000ff"/>
<rect x="238.4" y="745.3" width="9.2" height="9.2" fill="#0000ff"/>
<rect x="248.3" y="749.8" width="9.2" height="9.2" fill="#0000ff"/>
<rect x="243.5" y="753.7" width="9.2" height="9.2" fill="#0000ff"/>
<rect x="243.5" y="768.6" width="9.2" height="9.2" fill="#0000ff"/>
<rect x="243.5" y="780.7" width="9.2" height="9.2" fill="#0000ff"/>
<rect x="243.5" y="788.4" width="9.2" height="9.2" fill="#0000ff"/>
<rect x="243.5" y="792.9" width="9.2" height="9.2" fill="#0000ff"/>
<rect x="240.2" y="815.5" width="9.2" height="9.2" fill="#0000ff"/>
<rect x="246.5" y="813.4" width="9.2" height="9.2" fill="#0000ff"/>
<circle cx="138.0" cy="909.6" r="4.8" fill="#ff0000"/>
<circle cx="140.5" cy="910.6" r="4.8" fill="#ff0000"/>
<circle cx="143.0" cy="909.4" r="4.8" fill="#ff0000"/>
<circle cx="145.6" cy="910.8" r="4.8" fill="#ff0000"/>
<circle cx="142.0" cy="911.2" r="4.8" fill="#ff0000"/>
<circle cx="139.5" cy="908.8" r="4.8" fill="#ff0000"/>
<circle cx="144.5" cy="908.9" r="4.8" fill="#ff0000"/>
<rect x="160.9" y="902.9" width="9.2" height="9.2" fill="#0000ff"/>
<rect x="164.4" y="902.2" width="9.2" height="9.2" fill="#0000ff"/>
<rect x="167.9" y="903.0" width="9.2" height="9.2" fill="#0000ff"/>
<rect x="171.4" y="903.9" width="9.2" height="9.2" fill="#0000ff"/>
<rect x="165.4" y="904.9" width="9.2" height="9.2" fill="#0000ff"/>
<rect x="162.4" y="905.4" width="9.2" height="9.2" fill="#0000ff"/>
<rect x="169.9" y="905.6" width="9.2" height="9.2" fill="#0000ff"/>
<circle cx="296.3" cy="876.0" r="4.8" fill="#ff0000"/>
<circle cx="294.5" cy="882.5" r="4.8" fill="#ff0000"/>
<circle cx="299.5" cy="884.0" r="4.8" fill="#ff0000"/>
<circle cx="292.5" cy="888.5" r="4.8" fill="#ff0000"/>
<circle cx="301.5" cy="889.5" r="4.8" fill="#ff0000"/>
<circle cx="296.5" cy="892.0" r="4.8" fill="#ff0000"/>
<circle cx="293.0" cy="895.5" r="4.8" fill="#ff0000"/>
<circle cx="299.5" cy="897.0" r="4.8" fill="#ff0000"/>
<circle cx="296.5" cy="901.0" r="4.8" fill="#ff0000"/>
<circle cx="294.0" cy="905.5" r="4.8" fill="#ff0000"/>
<rect x="320.6" y="829.6" width="9.2" height="9.2" fill="#0000ff"/>
<rect x="315.9" y="849.9" width="9.2" height="9.2" fill="#0000ff"/>
<rect x="325.9" y="848.4" width="9.2" height="9.2" fill="#0000ff"/>
<rect x="320.9" y="853.4" width="9.2" height="9.2" fill="#0000ff"/>
<rect x="315.9" y="859.4" width="9.2" height="9.2" fill="#0000ff"/>
<rect x="326.1" y="858.4" width="9.2" height="9.2" fill="#0000ff"/>
<rect x="320.9" y="863.4" width="9.2" height="9.2" fill="#0000ff"/>
<rect x="316.4" y="867.9" width="9.2" height="9.2" fill="#0000ff"/>
<rect x="325.9" y="867.9" width="9.2" height="9.2" fill="#0000ff"/>
<rect x="322.4" y="876.9" width="9.2" height="9.2" fill="#0000ff"/>
<rect x="318.9" y="881.4" width="9.2" height="9.2" fill="#0000ff"/>
<circle cx="278.1" cy="716.4" r="4.8" fill="#ff0000"/>
<rect x="273.4" y="739.2" width="9.4" height="9.4" fill="#0000ff"/>
<text x="303.4" y="721.3" font-size="18.2" fill="#111">Cy3-NO<tspan font-size="13.1" dy="3.6">2</tspan><tspan dy="-3.6">-tre</tspan></text>
<text x="303.4" y="750" font-size="18.2" fill="#111">AO</text>
<text transform="translate(429.5 701) scale(0.96 1)" font-family="Liberation Serif, serif" font-weight="bold" font-size="24" fill="#000">E</text>
<rect x="501.95" y="796.35" width="17.70" height="112.65" fill="#fff" stroke="#000" stroke-width="2.5"/>
<rect x="532.15" y="790.25" width="17.70" height="118.75" fill="#fff" stroke="#000" stroke-width="2.5"/>
<rect x="581.85" y="869.95" width="17.70" height="39.05" fill="#fff" stroke="#000" stroke-width="2.5"/>
<rect x="612.05" y="869.95" width="17.70" height="39.05" fill="#fff" stroke="#000" stroke-width="2.5"/>
<rect x="662.05" y="872.15" width="17.70" height="36.85" fill="#fff" stroke="#000" stroke-width="2.5"/>
<rect x="692.25" y="872.55" width="17.70" height="36.45" fill="#fff" stroke="#000" stroke-width="2.5"/>
<rect x="742.55" y="771.65" width="17.70" height="137.35" fill="#fff" stroke="#000" stroke-width="2.5"/>
<rect x="772.75" y="763.55" width="17.70" height="145.45" fill="#fff" stroke="#000" stroke-width="2.5"/>
<path d="M490.6 700.3V910.3000000000001" stroke="#000" stroke-width="2.2"/>
<path d="M489.5 909.2H802.5" stroke="#000" stroke-width="2.2"/>
<path d="M482.3 909.2H490.6" stroke="#000" stroke-width="2.1"/>
<text x="479" y="914.6" font-size="15" font-weight="bold" text-anchor="end" fill="#000">0</text>
<path d="M482.3 857.3H490.6" stroke="#000" stroke-width="2.1"/>
<text x="479" y="862.7" font-size="15" font-weight="bold" text-anchor="end" fill="#000">20</text>
<path d="M482.3 805.3H490.6" stroke="#000" stroke-width="2.1"/>
<text x="479" y="810.7" font-size="15" font-weight="bold" text-anchor="end" fill="#000">40</text>
<path d="M482.3 753.4H490.6" stroke="#000" stroke-width="2.1"/>
<text x="479" y="758.8" font-size="15" font-weight="bold" text-anchor="end" fill="#000">60</text>
<path d="M482.3 701.4H490.6" stroke="#000" stroke-width="2.1"/>
<text x="479" y="706.8" font-size="15" font-weight="bold" text-anchor="end" fill="#000">80</text>
<path d="M525.4 909.2V918" stroke="#000" stroke-width="2.1"/>
<text x="525.4" y="934.6" font-size="15" font-weight="bold" text-anchor="middle" fill="#000">J#d1</text>
<path d="M605.3 909.2V918" stroke="#000" stroke-width="2.1"/>
<text x="605.3" y="934.6" font-size="15" font-weight="bold" text-anchor="middle" fill="#000">J#d4</text>
<path d="M685.5 909.2V918" stroke="#000" stroke-width="2.1"/>
<text x="685.5" y="934.6" font-size="15" font-weight="bold" text-anchor="middle" fill="#000">J#d6</text>
<path d="M766.0 909.2V918" stroke="#000" stroke-width="2.1"/>
<text x="766.0" y="934.6" font-size="15" font-weight="bold" text-anchor="middle" fill="#000">J#d8</text>
<text transform="translate(450.6 805) rotate(-90)" font-size="17.3" font-weight="bold" text-anchor="middle" fill="#000">Number of Mtb</text>
<path d="M510.6 756V834.5M506.35 756H514.85M506.35 834.5H514.85" stroke="#ff3030" stroke-width="1.0" fill="none" opacity="0.8"/>
<path d="M540.6 745.2V836M536.35 745.2H544.85M536.35 836H544.85" stroke="#3030ff" stroke-width="1.0" fill="none" opacity="0.75"/>
<path d="M590.6 856.2212000000001V881.6718000000001M586.6 856.2212000000001H594.6M586.6 881.6718000000001H594.6" stroke="#ff3030" stroke-width="1.0" fill="none" opacity="0.8"/>
<path d="M620.7 856.7406000000001V879.3345M616.7 856.7406000000001H624.7M616.7 879.3345H624.7" stroke="#3030ff" stroke-width="1.0" fill="none" opacity="0.75"/>
<path d="M670.8 858.2988V881.6718000000001M666.8 858.2988H674.8M666.8 881.6718000000001H674.8" stroke="#ff3030" stroke-width="1.0" fill="none" opacity="0.8"/>
<path d="M701 857.26V884.2688M697.0 857.26H705.0M697.0 884.2688H705.0" stroke="#3030ff" stroke-width="1.0" fill="none" opacity="0.75"/>
<path d="M751.3 741V801M747.05 741H755.55M747.05 801H755.55" stroke="#ff3030" stroke-width="1.0" fill="none" opacity="0.85"/>
<path d="M781.4 735.5V790.5M777.15 735.5H785.65M777.15 790.5H785.65" stroke="#3030ff" stroke-width="1.0" fill="none" opacity="0.8"/>
<circle cx="510.4" cy="727.7" r="4.5" fill="#ff0000"/>
<circle cx="510.4" cy="741.2" r="4.5" fill="#ff0000"/>
<circle cx="510.4" cy="756.5" r="4.5" fill="#ff0000"/>
<circle cx="510.4" cy="787.2" r="4.5" fill="#ff0000"/>
<circle cx="504.1" cy="789.9" r="4.5" fill="#ff0000"/>
<circle cx="516.0" cy="797.8" r="4.5" fill="#ff0000"/>
<circle cx="504.1" cy="821.5" r="4.5" fill="#ff0000"/>
<circle cx="516.0" cy="824.2" r="4.5" fill="#ff0000"/>
<circle cx="510.4" cy="829.3" r="4.5" fill="#ff0000"/>
<circle cx="516.0" cy="833.8" r="4.5" fill="#ff0000"/>
<circle cx="504.1" cy="839.9" r="4.5" fill="#ff0000"/>
<rect x="542.0" y="710.6" width="8.6" height="8.6" fill="#0000ff"/>
<rect x="530.4" y="718.5" width="8.6" height="8.6" fill="#0000ff"/>
<rect x="536.2" y="744.7" width="8.6" height="8.6" fill="#0000ff"/>
<rect x="536.2" y="765.4" width="8.6" height="8.6" fill="#0000ff"/>
<rect x="530.4" y="790.8" width="8.6" height="8.6" fill="#0000ff"/>
<rect x="542.0" y="790.8" width="8.6" height="8.6" fill="#0000ff"/>
<rect x="530.4" y="811.5" width="8.6" height="8.6" fill="#0000ff"/>
<rect x="542.0" y="811.5" width="8.6" height="8.6" fill="#0000ff"/>
<rect x="530.4" y="824.4" width="8.6" height="8.6" fill="#0000ff"/>
<rect x="542.0" y="824.4" width="8.6" height="8.6" fill="#0000ff"/>
<rect x="536.2" y="834.7" width="8.6" height="8.6" fill="#0000ff"/>
<circle cx="590.7" cy="842.1" r="4.5" fill="#ff0000"/>
<circle cx="593.6" cy="857.4" r="4.5" fill="#ff0000"/>
<circle cx="586.9" cy="859.7" r="4.5" fill="#ff0000"/>
<circle cx="583.5" cy="863.0" r="4.5" fill="#ff0000"/>
<circle cx="595.8" cy="865.3" r="4.5" fill="#ff0000"/>
<circle cx="589.8" cy="867.5" r="4.5" fill="#ff0000"/>
<circle cx="583.9" cy="869.8" r="4.5" fill="#ff0000"/>
<circle cx="595.8" cy="875.4" r="4.5" fill="#ff0000"/>
<circle cx="590.2" cy="877.6" r="4.5" fill="#ff0000"/>
<circle cx="593.6" cy="881.0" r="4.5" fill="#ff0000"/>
<circle cx="587.5" cy="886.6" r="4.5" fill="#ff0000"/>
<rect x="611.5" y="847.5" width="8.6" height="8.6" fill="#0000ff"/>
<rect x="621.1" y="847.5" width="8.6" height="8.6" fill="#0000ff"/>
<rect x="610.6" y="858.7" width="8.6" height="8.6" fill="#0000ff"/>
<rect x="621.9" y="858.7" width="8.6" height="8.6" fill="#0000ff"/>
<rect x="616.3" y="862.1" width="8.6" height="8.6" fill="#0000ff"/>
<rect x="610.6" y="864.7" width="8.6" height="8.6" fill="#0000ff"/>
<rect x="614.0" y="866.2" width="8.6" height="8.6" fill="#0000ff"/>
<rect x="621.9" y="872.2" width="8.6" height="8.6" fill="#0000ff"/>
<rect x="619.6" y="875.6" width="8.6" height="8.6" fill="#0000ff"/>
<rect x="613.3" y="882.3" width="8.6" height="8.6" fill="#0000ff"/>
<circle cx="668.4" cy="850.0" r="4.5" fill="#ff0000"/>
<circle cx="673.4" cy="850.0" r="4.5" fill="#ff0000"/>
<circle cx="671.6" cy="860.1" r="4.5" fill="#ff0000"/>
<circle cx="668.2" cy="863.0" r="4.5" fill="#ff0000"/>
<circle cx="664.4" cy="868.2" r="4.5" fill="#ff0000"/>
<circle cx="676.7" cy="868.2" r="4.5" fill="#ff0000"/>
<circle cx="668.9" cy="874.9" r="4.5" fill="#ff0000"/>
<circle cx="664.4" cy="878.1" r="4.5" fill="#ff0000"/>
<circle cx="677.2" cy="881.0" r="4.5" fill="#ff0000"/>
<circle cx="672.2" cy="883.7" r="4.5" fill="#ff0000"/>
<circle cx="664.8" cy="888.9" r="4.5" fill="#ff0000"/>
<rect x="694.9" y="841.9" width="8.6" height="8.6" fill="#0000ff"/>
<rect x="698.3" y="850.9" width="8.6" height="8.6" fill="#0000ff"/>
<rect x="691.5" y="856.5" width="8.6" height="8.6" fill="#0000ff"/>
<rect x="698.3" y="861.0" width="8.6" height="8.6" fill="#0000ff"/>
<rect x="694.9" y="864.4" width="8.6" height="8.6" fill="#0000ff"/>
<rect x="691.5" y="872.2" width="8.6" height="8.6" fill="#0000ff"/>
<rect x="698.3" y="875.6" width="8.6" height="8.6" fill="#0000ff"/>
<rect x="694.9" y="879.0" width="8.6" height="8.6" fill="#0000ff"/>
<rect x="702.1" y="879.0" width="8.6" height="8.6" fill="#0000ff"/>
<rect x="696.7" y="889.7" width="8.6" height="8.6" fill="#0000ff"/>
<circle cx="745.2" cy="730.5" r="4.5" fill="#ff0000"/>
<circle cx="753.3" cy="730.5" r="4.5" fill="#ff0000"/>
<circle cx="749.3" cy="738.4" r="4.5" fill="#ff0000"/>
<circle cx="751.1" cy="762.0" r="4.5" fill="#ff0000"/>
<circle cx="745.2" cy="777.6" r="4.5" fill="#ff0000"/>
<circle cx="757.1" cy="777.6" r="4.5" fill="#ff0000"/>
<circle cx="748.4" cy="785.1" r="4.5" fill="#ff0000"/>
<circle cx="753.3" cy="785.1" r="4.5" fill="#ff0000"/>
<circle cx="751.1" cy="800.3" r="4.5" fill="#ff0000"/>
<circle cx="750.9" cy="813.6" r="4.5" fill="#ff0000"/>
<rect x="779.2" y="713.4" width="8.6" height="8.6" fill="#0000ff"/>
<rect x="775.1" y="720.6" width="8.6" height="8.6" fill="#0000ff"/>
<rect x="776.9" y="731.6" width="8.6" height="8.6" fill="#0000ff"/>
<rect x="776.9" y="749.6" width="8.6" height="8.6" fill="#0000ff"/>
<rect x="771.7" y="769.7" width="8.6" height="8.6" fill="#0000ff"/>
<rect x="777.7" y="768.2" width="8.6" height="8.6" fill="#0000ff"/>
<rect x="783.7" y="771.2" width="8.6" height="8.6" fill="#0000ff"/>
<rect x="774.7" y="774.2" width="8.6" height="8.6" fill="#0000ff"/>
<rect x="781.2" y="775.2" width="8.6" height="8.6" fill="#0000ff"/>
<rect x="778.3" y="781.4" width="8.6" height="8.6" fill="#0000ff"/>
<rect x="776.9" y="797.6" width="8.6" height="8.6" fill="#0000ff"/>
<circle cx="599.2" cy="708.1" r="4.6" fill="#ff0000"/>
<rect x="594.8" y="730.5" width="8.8" height="8.8" fill="#0000ff"/>
<text x="622.4" y="713.2" font-size="17.4" fill="#111">Cy3-NO<tspan font-size="12.5" dy="3.5">2</tspan><tspan dy="-3.5">-tre</tspan></text>
<text x="622.4" y="740.2" font-size="17.4" fill="#111">AO</text>
<defs><pattern id="hA" patternUnits="userSpaceOnUse" width="9.6" height="7.4" patternTransform="translate(0 2)"><rect width="9.6" height="7.4" fill="#fff"/><path d="M-2 8.94L11.6 -1.54M-2 1.54L2 -1.54M7.6 8.94L11.6 5.86" stroke="#ff4242" stroke-width="2.5"/></pattern><pattern id="hB" patternUnits="userSpaceOnUse" width="9.6" height="7.4" patternTransform="translate(0 2)"><rect width="9.6" height="7.4" fill="#fff"/><path d="M-2 8.94L11.6 -1.54M-2 1.54L2 -1.54M7.6 8.94L11.6 5.86" stroke="#a80000" stroke-width="2.5"/></pattern><pattern id="hC" patternUnits="userSpaceOnUse" width="9.6" height="7.4" patternTransform="translate(0 2)"><rect width="9.6" height="7.4" fill="#dc96f7"/><path d="M-2 8.94L11.6 -1.54M-2 1.54L2 -1.54M7.6 8.94L11.6 5.86" stroke="#fff" stroke-width="2.5"/></pattern></defs>
<text transform="translate(18.7 946) scale(0.96 1)" font-family="Liberation Serif, serif" font-weight="bold" font-size="24" fill="#000">F</text>
<rect x="98.65" y="1021.15" width="9.90" height="85.95" fill="url(#hA)" stroke="#ff4242" stroke-width="2.3"/>
<rect x="116.45" y="1046.15" width="9.90" height="60.95" fill="url(#hA)" stroke="#ff4242" stroke-width="2.3"/>
<rect x="134.35" y="1075.55" width="9.90" height="31.55" fill="url(#hA)" stroke="#ff4242" stroke-width="2.3"/>
<rect x="152.25" y="1063.35" width="9.90" height="43.75" fill="url(#hA)" stroke="#ff4242" stroke-width="2.3"/>
<rect x="181.55" y="1039.15" width="9.90" height="67.95" fill="url(#hB)" stroke="#a80000" stroke-width="2.3"/>
<rect x="199.45" y="1035.15" width="9.90" height="71.95" fill="url(#hB)" stroke="#a80000" stroke-width="2.3"/>
<rect x="217.25" y="1072.15" width="9.90" height="34.95" fill="url(#hB)" stroke="#a80000" stroke-width="2.3"/>
<rect x="235.05" y="1096.95" width="9.90" height="10.15" fill="url(#hB)" stroke="#a80000" stroke-width="2.3"/>
<rect x="265.05" y="1063.15" width="9.90" height="43.95" fill="url(#hC)" stroke="#dc96f7" stroke-width="2.3"/>
<rect x="282.85" y="1055.75" width="9.90" height="51.35" fill="url(#hC)" stroke="#dc96f7" stroke-width="2.3"/>
<rect x="300.65" y="1074.85" width="9.90" height="32.25" fill="url(#hC)" stroke="#dc96f7" stroke-width="2.3"/>
<rect x="330.25" y="1067.35" width="9.90" height="39.75" fill="#fff" stroke="#1a1aff" stroke-width="2.3"/>
<rect x="348.05" y="1025.25" width="9.90" height="81.85" fill="#fff" stroke="#1a1aff" stroke-width="2.3"/>
<rect x="365.95" y="1022.05" width="9.90" height="85.05" fill="#fff" stroke="#1a1aff" stroke-width="2.3"/>
<rect x="383.85" y="1030.25" width="9.90" height="76.85" fill="#fff" stroke="#1a1aff" stroke-width="2.3"/>
<rect x="413.45" y="1051.45" width="9.90" height="55.65" fill="#fff" stroke="#ff8212" stroke-width="2.3"/>
<rect x="431.15" y="1034.25" width="9.90" height="72.85" fill="#fff" stroke="#ff8212" stroke-width="2.3"/>
<rect x="448.95" y="1039.15" width="9.90" height="67.95" fill="#fff" stroke="#ff8212" stroke-width="2.3"/>
<rect x="478.75" y="1065.35" width="9.90" height="41.75" fill="#fff" stroke="#9a9aff" stroke-width="2.3"/>
<rect x="496.65" y="1053.05" width="9.90" height="54.05" fill="#fff" stroke="#9a9aff" stroke-width="2.3"/>
<rect x="514.45" y="1078.85" width="9.90" height="28.25" fill="#fff" stroke="#9a9aff" stroke-width="2.3"/>
<rect x="543.85" y="1036.55" width="9.90" height="70.55" fill="#fff" stroke="#dedea6" stroke-width="2.3"/>
<rect x="561.65" y="1052.25" width="9.90" height="54.85" fill="#fff" stroke="#dedea6" stroke-width="2.3"/>
<rect x="579.65" y="1039.65" width="9.90" height="67.45" fill="#fff" stroke="#dedea6" stroke-width="2.3"/>
<rect x="609.25" y="1040.65" width="9.90" height="66.45" fill="#fff" stroke="#707070" stroke-width="2.3"/>
<rect x="627.15" y="1061.15" width="9.90" height="45.95" fill="#fff" stroke="#707070" stroke-width="2.3"/>
<rect x="645.05" y="1043.25" width="9.90" height="63.85" fill="#fff" stroke="#707070" stroke-width="2.3"/>
<rect x="662.95" y="1052.15" width="9.90" height="54.95" fill="#fff" stroke="#707070" stroke-width="2.3"/>
<rect x="692.45" y="1034.25" width="9.90" height="72.85" fill="#fff" stroke="#f5b57c" stroke-width="2.3"/>
<rect x="710.35" y="1031.15" width="9.90" height="75.95" fill="#fff" stroke="#f5b57c" stroke-width="2.3"/>
<rect x="728.25" y="1036.05" width="9.90" height="71.05" fill="#fff" stroke="#f5b57c" stroke-width="2.3"/>
<rect x="757.85" y="1036.55" width="9.90" height="70.55" fill="#fff" stroke="#ff82c4" stroke-width="2.3"/>
<rect x="775.45" y="1033.45" width="9.90" height="73.65" fill="#fff" stroke="#ff82c4" stroke-width="2.3"/>
<rect x="793.25" y="1030.45" width="9.90" height="76.65" fill="#fff" stroke="#ff82c4" stroke-width="2.3"/>
<rect x="811.15" y="1037.55" width="9.90" height="69.55" fill="#fff" stroke="#ff82c4" stroke-width="2.3"/>
<path d="M92.1 955.8V1108.8" stroke="#000" stroke-width="2.1"/>
<path d="M91 1107.5H830.3" stroke="#000" stroke-width="2.2"/>
<path d="M84.6 1107.7H92.1" stroke="#000" stroke-width="2"/>
<text x="82.3" y="1111.8" font-size="11.4" font-weight="bold" text-anchor="end" fill="#000">0</text>
<path d="M84.6 1070.2H92.1" stroke="#000" stroke-width="2"/>
<text x="82.3" y="1074.2" font-size="11.4" font-weight="bold" text-anchor="end" fill="#000">50</text>
<path d="M84.6 1032.3H92.1" stroke="#000" stroke-width="2"/>
<text x="82.3" y="1036.4" font-size="11.4" font-weight="bold" text-anchor="end" fill="#000">100</text>
<path d="M84.6 994.5H92.1" stroke="#000" stroke-width="2"/>
<text x="82.3" y="998.6" font-size="11.4" font-weight="bold" text-anchor="end" fill="#000">150</text>
<path d="M84.6 956.6H92.1" stroke="#000" stroke-width="2"/>
<text x="82.3" y="960.7" font-size="11.4" font-weight="bold" text-anchor="end" fill="#000">200</text>
<text transform="translate(52 1031.2) rotate(-90)" font-size="12.7" text-anchor="middle" fill="#000" stroke="#000" stroke-width="0.22" textLength="182" lengthAdjust="spacingAndGlyphs">Cy3-NO<tspan font-size="9.4" dy="2.6">2</tspan><tspan dy="-2.6">-tre /AO Percentage(%)</tspan></text>
<path d="M103.4 1107.7V1113.9" stroke="#000" stroke-width="2.1"/>
<text transform="translate(106.3 1124.9) rotate(-45)" font-size="12" font-weight="bold" text-anchor="end" fill="#111">d1</text>
<path d="M121.2 1107.7V1113.9" stroke="#000" stroke-width="2.1"/>
<text transform="translate(124.1 1124.9) rotate(-45)" font-size="12" font-weight="bold" text-anchor="end" fill="#111">d4</text>
<path d="M139.1 1107.7V1113.9" stroke="#000" stroke-width="2.1"/>
<text transform="translate(142.0 1124.9) rotate(-45)" font-size="12" font-weight="bold" text-anchor="end" fill="#111">d5</text>
<path d="M157.0 1107.7V1113.9" stroke="#000" stroke-width="2.1"/>
<text transform="translate(159.9 1124.9) rotate(-45)" font-size="12" font-weight="bold" text-anchor="end" fill="#111">d7</text>
<path d="M92.6 1141H157.3" stroke="#111" stroke-width="1.7"/>
<text x="120.7" y="1158" font-size="18.4" text-anchor="middle" fill="#222">A</text>
<path d="M186.3 1107.7V1113.9" stroke="#000" stroke-width="2.1"/>
<text transform="translate(189.2 1124.9) rotate(-45)" font-size="12" font-weight="bold" text-anchor="end" fill="#111">d1</text>
<path d="M204.2 1107.7V1113.9" stroke="#000" stroke-width="2.1"/>
<text transform="translate(207.1 1124.9) rotate(-45)" font-size="12" font-weight="bold" text-anchor="end" fill="#111">d3</text>
<path d="M222.0 1107.7V1113.9" stroke="#000" stroke-width="2.1"/>
<text transform="translate(224.9 1124.9) rotate(-45)" font-size="12" font-weight="bold" text-anchor="end" fill="#111">d5</text>
<path d="M239.8 1107.7V1113.9" stroke="#000" stroke-width="2.1"/>
<text transform="translate(242.7 1124.9) rotate(-45)" font-size="12" font-weight="bold" text-anchor="end" fill="#111">d7</text>
<path d="M172.5 1141.8H236.2" stroke="#111" stroke-width="1.7"/>
<text x="206" y="1159.6" font-size="18.4" text-anchor="middle" fill="#222">B</text>
<path d="M269.8 1107.7V1113.9" stroke="#000" stroke-width="2.1"/>
<text transform="translate(272.7 1124.9) rotate(-45)" font-size="12" font-weight="bold" text-anchor="end" fill="#111">d1</text>
<path d="M287.6 1107.7V1113.9" stroke="#000" stroke-width="2.1"/>
<text transform="translate(290.5 1124.9) rotate(-45)" font-size="12" font-weight="bold" text-anchor="end" fill="#111">d3</text>
<path d="M305.4 1107.7V1113.9" stroke="#000" stroke-width="2.1"/>
<text transform="translate(308.3 1124.9) rotate(-45)" font-size="12" font-weight="bold" text-anchor="end" fill="#111">d5</text>
<path d="M251.2 1142.2H315" stroke="#111" stroke-width="1.7"/>
<text x="278.9" y="1160.6" font-size="18.4" text-anchor="middle" fill="#222">C</text>
<path d="M335.0 1107.7V1113.9" stroke="#000" stroke-width="2.1"/>
<text transform="translate(337.9 1124.9) rotate(-45)" font-size="12" font-weight="bold" text-anchor="end" fill="#111">d1</text>
<path d="M352.8 1107.7V1113.9" stroke="#000" stroke-width="2.1"/>
<text transform="translate(355.7 1124.9) rotate(-45)" font-size="12" font-weight="bold" text-anchor="end" fill="#111">d3</text>
<path d="M370.7 1107.7V1113.9" stroke="#000" stroke-width="2.1"/>
<text transform="translate(373.6 1124.9) rotate(-45)" font-size="12" font-weight="bold" text-anchor="end" fill="#111">d5</text>
<path d="M388.6 1107.7V1113.9" stroke="#000" stroke-width="2.1"/>
<text transform="translate(391.5 1124.9) rotate(-45)" font-size="12" font-weight="bold" text-anchor="end" fill="#111">d9</text>
<path d="M322.9 1142.2H387.2" stroke="#111" stroke-width="1.7"/>
<text x="353" y="1162" font-size="18.4" text-anchor="middle" fill="#222">D</text>
<path d="M418.2 1107.7V1113.9" stroke="#000" stroke-width="2.1"/>
<text transform="translate(421.1 1124.9) rotate(-45)" font-size="12" font-weight="bold" text-anchor="end" fill="#111">d1</text>
<path d="M435.9 1107.7V1113.9" stroke="#000" stroke-width="2.1"/>
<text transform="translate(438.8 1124.9) rotate(-45)" font-size="12" font-weight="bold" text-anchor="end" fill="#111">d3</text>
<path d="M453.7 1107.7V1113.9" stroke="#000" stroke-width="2.1"/>
<text transform="translate(456.6 1124.9) rotate(-45)" font-size="12" font-weight="bold" text-anchor="end" fill="#111">d7</text>
<path d="M403 1142.7H457.2" stroke="#111" stroke-width="1.7"/>
<text x="427.6" y="1162" font-size="18.4" text-anchor="middle" fill="#222">E</text>
<path d="M483.5 1107.7V1113.9" stroke="#000" stroke-width="2.1"/>
<text transform="translate(486.4 1124.9) rotate(-45)" font-size="12" font-weight="bold" text-anchor="end" fill="#111">d1</text>
<path d="M501.4 1107.7V1113.9" stroke="#000" stroke-width="2.1"/>
<text transform="translate(504.3 1124.9) rotate(-45)" font-size="12" font-weight="bold" text-anchor="end" fill="#111">d3</text>
<path d="M519.2 1107.7V1113.9" stroke="#000" stroke-width="2.1"/>
<text transform="translate(522.1 1124.9) rotate(-45)" font-size="12" font-weight="bold" text-anchor="end" fill="#111">d5</text>
<path d="M470.1 1142.7H524.3" stroke="#111" stroke-width="1.7"/>
<text x="499.8" y="1162.8" font-size="18.4" text-anchor="middle" fill="#222">F</text>
<path d="M548.6 1107.7V1113.9" stroke="#000" stroke-width="2.1"/>
<text transform="translate(551.5 1124.9) rotate(-45)" font-size="12" font-weight="bold" text-anchor="end" fill="#111">d1</text>
<path d="M566.4 1107.7V1113.9" stroke="#000" stroke-width="2.1"/>
<text transform="translate(569.3 1124.9) rotate(-45)" font-size="12" font-weight="bold" text-anchor="end" fill="#111">d3</text>
<path d="M584.4 1107.7V1113.9" stroke="#000" stroke-width="2.1"/>
<text transform="translate(587.3 1124.9) rotate(-45)" font-size="12" font-weight="bold" text-anchor="end" fill="#111">d5</text>
<path d="M538.9 1142.6H592.8" stroke="#888" stroke-width="1.1"/>
<text x="562.7" y="1162.8" font-size="18.4" text-anchor="middle" fill="#222">G</text>
<path d="M614.0 1107.7V1113.9" stroke="#000" stroke-width="2.1"/>
<text transform="translate(616.9 1124.9) rotate(-45)" font-size="12" font-weight="bold" text-anchor="end" fill="#111">d1</text>
<path d="M631.9 1107.7V1113.9" stroke="#000" stroke-width="2.1"/>
<text transform="translate(634.8 1124.9) rotate(-45)" font-size="12" font-weight="bold" text-anchor="end" fill="#111">d3</text>
<path d="M649.8 1107.7V1113.9" stroke="#000" stroke-width="2.1"/>
<text transform="translate(652.7 1124.9) rotate(-45)" font-size="12" font-weight="bold" text-anchor="end" fill="#111">d5</text>
<path d="M667.7 1107.7V1113.9" stroke="#000" stroke-width="2.1"/>
<text transform="translate(670.6 1124.9) rotate(-45)" font-size="12" font-weight="bold" text-anchor="end" fill="#111">d7</text>
<path d="M610.2 1142.8H664.2" stroke="#111" stroke-width="1.7"/>
<text x="635.5" y="1162.8" font-size="18.4" text-anchor="middle" fill="#222">H</text>
<path d="M697.2 1107.7V1113.9" stroke="#000" stroke-width="2.1"/>
<text transform="translate(700.1 1124.9) rotate(-45)" font-size="12" font-weight="bold" text-anchor="end" fill="#111">d1</text>
<path d="M715.1 1107.7V1113.9" stroke="#000" stroke-width="2.1"/>
<text transform="translate(718.0 1124.9) rotate(-45)" font-size="12" font-weight="bold" text-anchor="end" fill="#111">d3</text>
<path d="M733.0 1107.7V1113.9" stroke="#000" stroke-width="2.1"/>
<text transform="translate(735.9 1124.9) rotate(-45)" font-size="12" font-weight="bold" text-anchor="end" fill="#111">d5</text>
<path d="M684.4 1142.8H738.3" stroke="#111" stroke-width="1.7"/>
<text x="708.3" y="1162.8" font-size="18.4" text-anchor="middle" fill="#222">I</text>
<path d="M762.6 1107.7V1113.9" stroke="#000" stroke-width="2.1"/>
<text transform="translate(765.5 1124.9) rotate(-45)" font-size="12" font-weight="bold" text-anchor="end" fill="#111">d1</text>
<path d="M780.2 1107.7V1113.9" stroke="#000" stroke-width="2.1"/>
<text transform="translate(783.1 1124.9) rotate(-45)" font-size="12" font-weight="bold" text-anchor="end" fill="#111">d4</text>
<path d="M798.0 1107.7V1113.9" stroke="#000" stroke-width="2.1"/>
<text transform="translate(800.9 1124.9) rotate(-45)" font-size="12" font-weight="bold" text-anchor="end" fill="#111">d6</text>
<path d="M815.9 1107.7V1113.9" stroke="#000" stroke-width="2.1"/>
<text transform="translate(818.8 1124.9) rotate(-45)" font-size="12" font-weight="bold" text-anchor="end" fill="#111">d8</text>
<path d="M750 1143.7H812.5" stroke="#333" stroke-width="1.7"/>
<text x="778" y="1163" font-size="18.4" text-anchor="middle" fill="#222">J</text>
<path d="M101.2 994.8V991.0H156.7V994.8" stroke="#111" stroke-width="1.5" fill="none"/>
<text x="127.9" y="996.0" font-size="17.6" text-anchor="middle" fill="#222" stroke="#222" stroke-width="0.35" letter-spacing="-0.2">***</text>
<path d="M185.5 1006.6V1002.2H240.5V1006.6" stroke="#111" stroke-width="1.5" fill="none"/>
<text x="213.6" y="1008.1" font-size="17.6" text-anchor="middle" fill="#222" stroke="#222" stroke-width="0.35" letter-spacing="-0.2">****</text>
<path d="M268.0 1026.5V1022.2H310.2V1026.5" stroke="#111" stroke-width="1.5" fill="none"/>
<text x="289.8" y="1027.5" font-size="17.6" text-anchor="middle" fill="#222" stroke="#222" stroke-width="0.35" letter-spacing="-0.2">**</text>
<path d="M333.3 1000.5V995.9H389.6V1000.5" stroke="#111" stroke-width="1.5" fill="none"/>
<text x="361.8" y="1001.3" font-size="17.6" text-anchor="middle" fill="#222" stroke="#222" stroke-width="0.35" letter-spacing="-0.2">****</text>
<path d="M412.3 1005.7V1001.6H454.4V1005.7" stroke="#111" stroke-width="1.5" fill="none"/>
<text x="433.7" y="1006.6" font-size="17.6" text-anchor="middle" fill="#222" stroke="#222" stroke-width="0.35" letter-spacing="-0.2">**</text>
<path d="M477.8 1023.1V1019.0H519.9V1023.1" stroke="#111" stroke-width="1.5" fill="none"/>
<text x="500.2" y="1015.7" font-size="17" text-anchor="middle" fill="#222">ns</text>
<path d="M545.4 1011.6V1007.7H587.7V1011.6" stroke="#111" stroke-width="1.5" fill="none"/>
<text x="567.2" y="1004.9" font-size="17" text-anchor="middle" fill="#222">ns</text>
<path d="M613.9 1011.6V1007.2H668.0V1011.6" stroke="#111" stroke-width="1.5" fill="none"/>
<text x="641.5" y="1004.4" font-size="17" text-anchor="middle" fill="#222">ns</text>
<path d="M694.4 1017.5V1012.9H737.0V1017.5" stroke="#111" stroke-width="1.5" fill="none"/>
<text x="720.1" y="1010.3" font-size="17" text-anchor="middle" fill="#222">ns</text>
<path d="M761.7 1003.6V999.0H815.8V1003.6" stroke="#111" stroke-width="1.5" fill="none"/>
<text x="790.6" y="996.4" font-size="17" text-anchor="middle" fill="#222">ns</text>
<path d="M103.7 1000.9V1041.0M100.9 1000.9H106.5M100.9 1041.0H106.5" stroke="#ff4242" stroke-width="0.9" fill="none" opacity="0.85"/>
<path d="M121.4 1035.0V1056.0M118.6 1035.0H124.2M118.6 1056.0H124.2" stroke="#ff4242" stroke-width="0.9" fill="none" opacity="0.85"/>
<path d="M139.3 1061.8V1087.0M136.5 1061.8H142.1M136.5 1087.0H142.1" stroke="#ff4242" stroke-width="0.9" fill="none" opacity="0.85"/>
<path d="M157.0 1040.5V1084.0M154.2 1040.5H159.8M154.2 1084.0H159.8" stroke="#ff4242" stroke-width="0.9" fill="none" opacity="0.85"/>
<path d="M186.5 1028.0V1048.0M183.7 1028.0H189.3M183.7 1048.0H189.3" stroke="#a80000" stroke-width="0.9" fill="none" opacity="0.85"/>
<path d="M204.4 1022.4V1046.0M201.6 1022.4H207.2M201.6 1046.0H207.2" stroke="#a80000" stroke-width="0.9" fill="none" opacity="0.85"/>
<path d="M222.2 1041.5V1100.5M219.4 1041.5H225.0M219.4 1100.5H225.0" stroke="#a80000" stroke-width="0.9" fill="none" opacity="0.85"/>
<path d="M240.0 1088.0V1103.5M237.2 1088.0H242.8M237.2 1103.5H242.8" stroke="#a80000" stroke-width="0.9" fill="none" opacity="0.85"/>
<path d="M270.0 1053.0V1071.0M267.2 1053.0H272.8M267.2 1071.0H272.8" stroke="#dc96f7" stroke-width="0.9" fill="none" opacity="0.85"/>
<path d="M287.8 1046.0V1063.0M285.0 1046.0H290.6M285.0 1063.0H290.6" stroke="#dc96f7" stroke-width="0.9" fill="none" opacity="0.85"/>
<path d="M305.6 1065.0V1082.0M302.8 1065.0H308.4M302.8 1082.0H308.4" stroke="#dc96f7" stroke-width="0.9" fill="none" opacity="0.85"/>
<path d="M335.2 1062.5V1070.0M332.4 1062.5H338.0M332.4 1070.0H338.0" stroke="#1a1aff" stroke-width="0.9" fill="none" opacity="0.85"/>
<path d="M353.0 1017.5V1031.0M350.2 1017.5H355.8M350.2 1031.0H355.8" stroke="#1a1aff" stroke-width="0.9" fill="none" opacity="0.85"/>
<path d="M370.9 1013.0V1029.0M368.1 1013.0H373.7M368.1 1029.0H373.7" stroke="#1a1aff" stroke-width="0.9" fill="none" opacity="0.85"/>
<path d="M388.8 1021.3V1037.0M386.0 1021.3H391.6M386.0 1037.0H391.6" stroke="#1a1aff" stroke-width="0.9" fill="none" opacity="0.85"/>
<path d="M418.4 1044.0V1057.0M415.6 1044.0H421.2M415.6 1057.0H421.2" stroke="#ff8212" stroke-width="0.9" fill="none" opacity="0.85"/>
<path d="M436.1 1024.4V1041.6M433.3 1024.4H438.9M433.3 1041.6H438.9" stroke="#ff8212" stroke-width="0.9" fill="none" opacity="0.85"/>
<path d="M453.9 1027.5V1048.3M451.1 1027.5H456.7M451.1 1048.3H456.7" stroke="#ff8212" stroke-width="0.9" fill="none" opacity="0.85"/>
<path d="M483.7 1059.0V1069.5M480.9 1059.0H486.5M480.9 1069.5H486.5" stroke="#9a9aff" stroke-width="0.9" fill="none" opacity="0.85"/>
<path d="M501.6 1042.0V1062.0M498.8 1042.0H504.4M498.8 1062.0H504.4" stroke="#9a9aff" stroke-width="0.9" fill="none" opacity="0.85"/>
<path d="M519.4 1057.8V1097.0M516.6 1057.8H522.2M516.6 1097.0H522.2" stroke="#9a9aff" stroke-width="0.9" fill="none" opacity="0.85"/>
<path d="M548.8 1026.7V1044.0M546.0 1026.7H551.6M546.0 1044.0H551.6" stroke="#dedea6" stroke-width="0.9" fill="none" opacity="0.85"/>
<path d="M566.6 1046.0V1056.0M563.8 1046.0H569.4M563.8 1056.0H569.4" stroke="#dedea6" stroke-width="0.9" fill="none" opacity="0.85"/>
<path d="M584.6 1030.8V1046.0M581.8 1030.8H587.4M581.8 1046.0H587.4" stroke="#dedea6" stroke-width="0.9" fill="none" opacity="0.85"/>
<path d="M614.2 1036.0V1043.0M611.4 1036.0H617.0M611.4 1043.0H617.0" stroke="#707070" stroke-width="0.9" fill="none" opacity="0.85"/>
<path d="M632.1 1052.0V1068.0M629.3 1052.0H634.9M629.3 1068.0H634.9" stroke="#707070" stroke-width="0.9" fill="none" opacity="0.85"/>
<path d="M650.0 1030.0V1054.0M647.2 1030.0H652.8M647.2 1054.0H652.8" stroke="#707070" stroke-width="0.9" fill="none" opacity="0.85"/>
<path d="M667.9 1040.0V1062.0M665.1 1040.0H670.7M665.1 1062.0H670.7" stroke="#707070" stroke-width="0.9" fill="none" opacity="0.85"/>
<path d="M697.4 1027.0V1039.0M694.6 1027.0H700.2M694.6 1039.0H700.2" stroke="#f5b57c" stroke-width="0.9" fill="none" opacity="0.85"/>
<path d="M715.3 1026.0V1034.0M712.5 1026.0H718.1M712.5 1034.0H718.1" stroke="#f5b57c" stroke-width="0.9" fill="none" opacity="0.85"/>
<path d="M733.2 1030.0V1040.0M730.4 1030.0H736.0M730.4 1040.0H736.0" stroke="#f5b57c" stroke-width="0.9" fill="none" opacity="0.85"/>
<path d="M762.8 1029.0V1042.0M760.0 1029.0H765.6M760.0 1042.0H765.6" stroke="#ff82c4" stroke-width="0.9" fill="none" opacity="0.85"/>
<path d="M780.4 1025.0V1039.5M777.6 1025.0H783.2M777.6 1039.5H783.2" stroke="#ff82c4" stroke-width="0.9" fill="none" opacity="0.85"/>
<path d="M798.2 1019.0V1039.5M795.4 1019.0H801.0M795.4 1039.5H801.0" stroke="#ff82c4" stroke-width="0.9" fill="none" opacity="0.85"/>
<path d="M816.1 1032.0V1041.0M813.3 1032.0H818.9M813.3 1041.0H818.9" stroke="#ff82c4" stroke-width="0.9" fill="none" opacity="0.85"/>
<circle cx="103.7" cy="967.5" r="2.7" fill="#a800e0"/>
<circle cx="103.7" cy="1007.6" r="2.7" fill="#a800e0"/>
<circle cx="103.5" cy="1017.5" r="2.7" fill="#a800e0"/>
<circle cx="102.1" cy="1019.8" r="2.7" fill="#a800e0"/>
<circle cx="104.8" cy="1022.0" r="2.7" fill="#a800e0"/>
<circle cx="103.5" cy="1024.7" r="2.7" fill="#a800e0"/>
<circle cx="101.7" cy="1028.3" r="2.7" fill="#a800e0"/>
<circle cx="105.3" cy="1028.3" r="2.7" fill="#a800e0"/>
<circle cx="103.5" cy="1029.7" r="2.7" fill="#a800e0"/>
<circle cx="103.7" cy="1038.7" r="2.7" fill="#a800e0"/>
<circle cx="120.6" cy="1031.0" r="2.7" fill="#a800e0"/>
<circle cx="122.8" cy="1033.7" r="2.7" fill="#a800e0"/>
<circle cx="121.0" cy="1038.7" r="2.7" fill="#a800e0"/>
<circle cx="122.4" cy="1040.0" r="2.7" fill="#a800e0"/>
<circle cx="120.1" cy="1042.7" r="2.7" fill="#a800e0"/>
<circle cx="123.3" cy="1045.0" r="2.7" fill="#a800e0"/>
<circle cx="121.9" cy="1057.3" r="2.7" fill="#a800e0"/>
<circle cx="120.4" cy="1064.5" r="2.7" fill="#a800e0"/>
<circle cx="139.3" cy="1051.0" r="2.7" fill="#a800e0"/>
<circle cx="139.3" cy="1057.3" r="2.7" fill="#a800e0"/>
<circle cx="139.3" cy="1069.9" r="2.7" fill="#a800e0"/>
<circle cx="139.3" cy="1077.1" r="2.7" fill="#a800e0"/>
<circle cx="138.5" cy="1079.8" r="2.7" fill="#a800e0"/>
<circle cx="141.2" cy="1082.5" r="2.7" fill="#a800e0"/>
<circle cx="139.4" cy="1086.1" r="2.7" fill="#a800e0"/>
<circle cx="137.2" cy="1088.8" r="2.7" fill="#a800e0"/>
<circle cx="154.7" cy="1032.1" r="2.7" fill="#a800e0"/>
<circle cx="159.7" cy="1032.1" r="2.7" fill="#a800e0"/>
<circle cx="157.2" cy="1035.7" r="2.7" fill="#a800e0"/>
<circle cx="157.0" cy="1057.3" r="2.7" fill="#a800e0"/>
<circle cx="159.2" cy="1061.8" r="2.7" fill="#a800e0"/>
<circle cx="154.9" cy="1064.5" r="2.7" fill="#a800e0"/>
<circle cx="157.0" cy="1069.9" r="2.7" fill="#a800e0"/>
<circle cx="154.7" cy="1075.0" r="2.7" fill="#a800e0"/>
<circle cx="159.4" cy="1074.7" r="2.7" fill="#a800e0"/>
<circle cx="157.0" cy="1082.5" r="2.7" fill="#a800e0"/>
<circle cx="157.0" cy="1102.5" r="2.7" fill="#a800e0"/>
<rect x="184.2" y="1020.9" width="4.9" height="4.9" fill="#a800e0"/>
<rect x="184.2" y="1025.2" width="4.9" height="4.9" fill="#a800e0"/>
<rect x="181.9" y="1029.5" width="4.9" height="4.9" fill="#a800e0"/>
<rect x="186.7" y="1029.5" width="4.9" height="4.9" fill="#a800e0"/>
<rect x="184.6" y="1033.3" width="4.9" height="4.9" fill="#a800e0"/>
<rect x="185.2" y="1039.5" width="4.9" height="4.9" fill="#a800e0"/>
<rect x="183.2" y="1045.2" width="4.9" height="4.9" fill="#a800e0"/>
<rect x="184.2" y="1068.1" width="4.9" height="4.9" fill="#a800e0"/>
<rect x="202.1" y="1010.9" width="4.9" height="4.9" fill="#a800e0"/>
<rect x="202.1" y="1014.8" width="4.9" height="4.9" fill="#a800e0"/>
<rect x="200.0" y="1029.5" width="4.9" height="4.9" fill="#a800e0"/>
<rect x="204.2" y="1029.5" width="4.9" height="4.9" fill="#a800e0"/>
<rect x="202.9" y="1037.1" width="4.9" height="4.9" fill="#a800e0"/>
<rect x="201.4" y="1041.0" width="4.9" height="4.9" fill="#a800e0"/>
<rect x="203.2" y="1043.8" width="4.9" height="4.9" fill="#a800e0"/>
<rect x="201.4" y="1048.5" width="4.9" height="4.9" fill="#a800e0"/>
<rect x="217.6" y="1030.0" width="4.9" height="4.9" fill="#a800e0"/>
<rect x="221.9" y="1030.0" width="4.9" height="4.9" fill="#a800e0"/>
<rect x="219.8" y="1067.1" width="4.9" height="4.9" fill="#a800e0"/>
<rect x="219.8" y="1080.0" width="4.9" height="4.9" fill="#a800e0"/>
<rect x="219.8" y="1090.0" width="4.9" height="4.9" fill="#a800e0"/>
<rect x="219.6" y="1105.2" width="4.9" height="4.9" fill="#a800e0"/>
<rect x="217.9" y="1104.8" width="4.9" height="4.9" fill="#a800e0"/>
<rect x="238.0" y="1080.0" width="4.9" height="4.9" fill="#a800e0"/>
<rect x="238.0" y="1084.8" width="4.9" height="4.9" fill="#a800e0"/>
<rect x="235.8" y="1091.5" width="4.9" height="4.9" fill="#a800e0"/>
<rect x="240.1" y="1091.5" width="4.9" height="4.9" fill="#a800e0"/>
<rect x="238.6" y="1100.0" width="4.9" height="4.9" fill="#a800e0"/>
<rect x="237.2" y="1105.2" width="4.9" height="4.9" fill="#a800e0"/>
<polygon points="269.8,1033.4 270.8,1036.0 273.5,1036.1 271.4,1037.8 272.1,1040.5 269.8,1038.9 267.5,1040.5 268.2,1037.8 266.1,1036.1 268.8,1036.0" fill="#a800e0"/>
<polygon points="269.8,1049.6 270.8,1052.2 273.5,1052.3 271.4,1054.0 272.1,1056.7 269.8,1055.1 267.5,1056.7 268.2,1054.0 266.1,1052.3 268.8,1052.2" fill="#a800e0"/>
<polygon points="270.2,1054.5 271.2,1057.1 273.9,1057.2 271.8,1058.9 272.5,1061.6 270.2,1060.0 267.9,1061.6 268.6,1058.9 266.5,1057.2 269.2,1057.1" fill="#a800e0"/>
<polygon points="269.3,1059.0 270.3,1061.6 273.0,1061.7 270.9,1063.4 271.6,1066.1 269.3,1064.5 267.0,1066.1 267.7,1063.4 265.6,1061.7 268.3,1061.6" fill="#a800e0"/>
<polygon points="271.6,1062.2 272.6,1064.8 275.3,1064.9 273.2,1066.6 273.9,1069.3 271.6,1067.7 269.3,1069.3 270.0,1066.6 267.9,1064.9 270.6,1064.8" fill="#a800e0"/>
<polygon points="268.0,1063.1 269.0,1065.7 271.7,1065.8 269.6,1067.5 270.3,1070.2 268.0,1068.6 265.7,1070.2 266.4,1067.5 264.3,1065.8 267.0,1065.7" fill="#a800e0"/>
<polygon points="270.2,1065.8 271.2,1068.4 273.9,1068.5 271.8,1070.2 272.5,1072.9 270.2,1071.3 267.9,1072.9 268.6,1070.2 266.5,1068.5 269.2,1068.4" fill="#a800e0"/>
<polygon points="267.5,1065.6 268.5,1068.2 271.2,1068.3 269.1,1070.0 269.8,1072.7 267.5,1071.1 265.2,1072.7 265.9,1070.0 263.8,1068.3 266.5,1068.2" fill="#a800e0"/>
<polygon points="272.8,1065.3 273.8,1067.9 276.5,1068.0 274.4,1069.7 275.1,1072.4 272.8,1070.8 270.5,1072.4 271.2,1069.7 269.1,1068.0 271.8,1067.9" fill="#a800e0"/>
<polygon points="287.6,1038.8 288.6,1041.4 291.3,1041.5 289.2,1043.2 289.9,1045.9 287.6,1044.3 285.3,1045.9 286.0,1043.2 283.9,1041.5 286.6,1041.4" fill="#a800e0"/>
<polygon points="285.5,1041.9 286.5,1044.5 289.2,1044.6 287.1,1046.3 287.8,1049.0 285.5,1047.4 283.2,1049.0 283.9,1046.3 281.8,1044.6 284.5,1044.5" fill="#a800e0"/>
<polygon points="288.7,1045.1 289.7,1047.7 292.4,1047.8 290.3,1049.5 291.0,1052.2 288.7,1050.6 286.4,1052.2 287.1,1049.5 285.0,1047.8 287.7,1047.7" fill="#a800e0"/>
<polygon points="290.0,1047.8 291.0,1050.4 293.7,1050.5 291.6,1052.2 292.3,1054.9 290.0,1053.3 287.7,1054.9 288.4,1052.2 286.3,1050.5 289.0,1050.4" fill="#a800e0"/>
<polygon points="286.0,1050.0 287.0,1052.6 289.7,1052.7 287.6,1054.4 288.3,1057.1 286.0,1055.5 283.7,1057.1 284.4,1054.4 282.3,1052.7 285.0,1052.6" fill="#a800e0"/>
<polygon points="288.7,1053.6 289.7,1056.2 292.4,1056.3 290.3,1058.0 291.0,1060.7 288.7,1059.1 286.4,1060.7 287.1,1058.0 285.0,1056.3 287.7,1056.2" fill="#a800e0"/>
<polygon points="286.4,1057.2 287.4,1059.8 290.1,1059.9 288.0,1061.6 288.7,1064.3 286.4,1062.7 284.1,1064.3 284.8,1061.6 282.7,1059.9 285.4,1059.8" fill="#a800e0"/>
<polygon points="289.1,1060.4 290.1,1063.0 292.8,1063.1 290.7,1064.8 291.4,1067.5 289.1,1065.9 286.8,1067.5 287.5,1064.8 285.4,1063.1 288.1,1063.0" fill="#a800e0"/>
<polygon points="286.9,1064.9 287.9,1067.5 290.6,1067.6 288.5,1069.3 289.2,1072.0 286.9,1070.4 284.6,1072.0 285.3,1069.3 283.2,1067.6 285.9,1067.5" fill="#a800e0"/>
<polygon points="305.3,1058.6 306.3,1061.2 309.0,1061.3 306.9,1063.0 307.6,1065.7 305.3,1064.1 303.0,1065.7 303.7,1063.0 301.6,1061.3 304.3,1061.2" fill="#a800e0"/>
<polygon points="303.9,1062.6 304.9,1065.2 307.6,1065.3 305.5,1067.0 306.2,1069.7 303.9,1068.1 301.6,1069.7 302.3,1067.0 300.2,1065.3 302.9,1065.2" fill="#a800e0"/>
<polygon points="307.1,1065.8 308.1,1068.4 310.8,1068.5 308.7,1070.2 309.4,1072.9 307.1,1071.3 304.8,1072.9 305.5,1070.2 303.4,1068.5 306.1,1068.4" fill="#a800e0"/>
<polygon points="304.4,1068.0 305.4,1070.6 308.1,1070.7 306.0,1072.4 306.7,1075.1 304.4,1073.5 302.1,1075.1 302.8,1072.4 300.7,1070.7 303.4,1070.6" fill="#a800e0"/>
<polygon points="306.2,1070.7 307.2,1073.3 309.9,1073.4 307.8,1075.1 308.5,1077.8 306.2,1076.2 303.9,1077.8 304.6,1075.1 302.5,1073.4 305.2,1073.3" fill="#a800e0"/>
<polygon points="303.9,1074.3 304.9,1076.9 307.6,1077.0 305.5,1078.7 306.2,1081.4 303.9,1079.8 301.6,1081.4 302.3,1078.7 300.2,1077.0 302.9,1076.9" fill="#a800e0"/>
<polygon points="306.6,1076.1 307.6,1078.7 310.3,1078.8 308.2,1080.5 308.9,1083.2 306.6,1081.6 304.3,1083.2 305.0,1080.5 302.9,1078.8 305.6,1078.7" fill="#a800e0"/>
<polygon points="304.8,1084.2 305.8,1086.8 308.5,1086.9 306.4,1088.6 307.1,1091.3 304.8,1089.7 302.5,1091.3 303.2,1088.6 301.1,1086.9 303.8,1086.8" fill="#a800e0"/>
<polygon points="333.2,1059.7 336.0,1064.8 330.4,1064.8" fill="#a800e0"/>
<polygon points="335.8,1061.5 338.6,1066.5 333.0,1066.5" fill="#a800e0"/>
<polygon points="337.5,1063.2 340.3,1068.3 334.7,1068.3" fill="#a800e0"/>
<polygon points="333.3,1065.0 336.1,1070.0 330.5,1070.0" fill="#a800e0"/>
<polygon points="335.4,1066.7 338.2,1071.8 332.6,1071.8" fill="#a800e0"/>
<polygon points="337.1,1068.5 339.9,1073.5 334.3,1073.5" fill="#a800e0"/>
<polygon points="333.8,1070.2 336.6,1075.3 331.0,1075.3" fill="#a800e0"/>
<polygon points="352.9,1006.8 355.9,1012.2 349.9,1012.2" fill="#a800e0"/>
<polygon points="351.4,1018.0 354.4,1023.4 348.4,1023.4" fill="#a800e0"/>
<polygon points="353.4,1019.7 356.4,1025.1 350.4,1025.1" fill="#a800e0"/>
<polygon points="354.4,1021.5 357.4,1026.9 351.4,1026.9" fill="#a800e0"/>
<polygon points="350.3,1023.2 353.3,1028.6 347.3,1028.6" fill="#a800e0"/>
<polygon points="353.3,1024.9 356.3,1030.3 350.3,1030.3" fill="#a800e0"/>
<polygon points="355.3,1026.6 358.3,1032.0 352.3,1032.0" fill="#a800e0"/>
<polygon points="351.0,1028.3 354.0,1033.7 348.0,1033.7" fill="#a800e0"/>
<polygon points="352.7,1030.0 355.7,1035.4 349.7,1035.4" fill="#a800e0"/>
<polygon points="370.8,1002.7 373.8,1008.1 367.8,1008.1" fill="#a800e0"/>
<polygon points="370.8,1010.9 373.8,1016.3 367.8,1016.3" fill="#a800e0"/>
<polygon points="368.4,1016.0 371.4,1021.4 365.4,1021.4" fill="#a800e0"/>
<polygon points="370.9,1018.2 373.9,1023.6 367.9,1023.6" fill="#a800e0"/>
<polygon points="372.7,1020.4 375.7,1025.8 369.7,1025.8" fill="#a800e0"/>
<polygon points="368.8,1022.5 371.8,1027.9 365.8,1027.9" fill="#a800e0"/>
<polygon points="371.0,1024.7 374.0,1030.1 368.0,1030.1" fill="#a800e0"/>
<polygon points="372.4,1026.9 375.4,1032.3 369.4,1032.3" fill="#a800e0"/>
<polygon points="368.1,1029.0 371.1,1034.4 365.1,1034.4" fill="#a800e0"/>
<polygon points="388.6,1010.1 391.6,1015.5 385.6,1015.5" fill="#a800e0"/>
<polygon points="386.2,1022.0 389.2,1027.4 383.2,1027.4" fill="#a800e0"/>
<polygon points="388.1,1024.3 391.1,1029.7 385.1,1029.7" fill="#a800e0"/>
<polygon points="390.6,1026.6 393.6,1032.0 387.6,1032.0" fill="#a800e0"/>
<polygon points="386.1,1028.9 389.1,1034.3 383.1,1034.3" fill="#a800e0"/>
<polygon points="388.1,1031.2 391.1,1036.6 385.1,1036.6" fill="#a800e0"/>
<polygon points="390.6,1033.5 393.6,1038.9 387.6,1038.9" fill="#a800e0"/>
<polygon points="387.0,1035.7 390.0,1041.1 384.0,1041.1" fill="#a800e0"/>
<polygon points="389.0,1038.0 392.0,1043.4 386.0,1043.4" fill="#a800e0"/>
<polygon points="416.5,1041.5 419.5,1036.1 413.5,1036.1" fill="#a800e0"/>
<polygon points="418.6,1043.7 421.6,1038.3 415.6,1038.3" fill="#a800e0"/>
<polygon points="420.6,1045.8 423.6,1040.4 417.6,1040.4" fill="#a800e0"/>
<polygon points="416.9,1048.0 419.9,1042.6 413.9,1042.6" fill="#a800e0"/>
<polygon points="418.6,1050.2 421.6,1044.8 415.6,1044.8" fill="#a800e0"/>
<polygon points="420.7,1052.4 423.7,1047.0 417.7,1047.0" fill="#a800e0"/>
<polygon points="415.8,1054.6 418.8,1049.2 412.8,1049.2" fill="#a800e0"/>
<polygon points="418.3,1056.8 421.3,1051.4 415.3,1051.4" fill="#a800e0"/>
<polygon points="420.8,1059.0 423.8,1053.6 417.8,1053.6" fill="#a800e0"/>
<polygon points="417.7,1065.6 420.7,1060.2 414.7,1060.2" fill="#a800e0"/>
<polygon points="435.9,1017.4 438.9,1012.0 432.9,1012.0" fill="#a800e0"/>
<polygon points="435.9,1027.1 438.9,1021.7 432.9,1021.7" fill="#a800e0"/>
<polygon points="433.0,1035.0 436.0,1029.6 430.0,1029.6" fill="#a800e0"/>
<polygon points="438.8,1035.0 441.8,1029.6 435.8,1029.6" fill="#a800e0"/>
<polygon points="435.9,1037.0 438.9,1031.6 432.9,1031.6" fill="#a800e0"/>
<polygon points="433.6,1039.5 436.6,1034.1 430.6,1034.1" fill="#a800e0"/>
<polygon points="438.2,1039.5 441.2,1034.1 435.2,1034.1" fill="#a800e0"/>
<polygon points="435.9,1050.2 438.9,1044.8 432.9,1044.8" fill="#a800e0"/>
<polygon points="453.9,1024.1 456.9,1018.7 450.9,1018.7" fill="#a800e0"/>
<polygon points="454.4,1027.1 457.4,1021.7 451.4,1021.7" fill="#a800e0"/>
<polygon points="453.2,1030.7 456.2,1025.3 450.2,1025.3" fill="#a800e0"/>
<polygon points="454.4,1036.4 457.4,1031.0 451.4,1031.0" fill="#a800e0"/>
<polygon points="452.9,1039.5 455.9,1034.1 449.9,1034.1" fill="#a800e0"/>
<polygon points="451.0,1044.0 454.0,1038.6 448.0,1038.6" fill="#a800e0"/>
<polygon points="456.8,1044.0 459.8,1038.6 453.8,1038.6" fill="#a800e0"/>
<polygon points="453.9,1046.0 456.9,1040.6 450.9,1040.6" fill="#a800e0"/>
<polygon points="453.9,1063.1 456.9,1057.7 450.9,1057.7" fill="#a800e0"/>
<polygon points="481.9,1054.8 484.6,1057.5 481.9,1060.2 479.2,1057.5" fill="#a800e0"/>
<polygon points="483.7,1056.7 486.4,1059.4 483.7,1062.1 481.0,1059.4" fill="#a800e0"/>
<polygon points="485.0,1058.5 487.7,1061.2 485.0,1064.0 482.3,1061.2" fill="#a800e0"/>
<polygon points="481.3,1060.4 484.0,1063.1 481.3,1065.8 478.6,1063.1" fill="#a800e0"/>
<polygon points="482.7,1062.3 485.4,1065.0 482.7,1067.7 480.0,1065.0" fill="#a800e0"/>
<polygon points="485.3,1064.2 488.0,1066.9 485.3,1069.6 482.6,1066.9" fill="#a800e0"/>
<polygon points="481.5,1066.0 484.2,1068.8 481.5,1071.5 478.8,1068.8" fill="#a800e0"/>
<polygon points="483.6,1067.9 486.3,1070.6 483.6,1073.3 480.9,1070.6" fill="#a800e0"/>
<polygon points="484.9,1069.8 487.6,1072.5 484.9,1075.2 482.2,1072.5" fill="#a800e0"/>
<polygon points="501.4,1032.7 504.1,1035.4 501.4,1038.1 498.7,1035.4" fill="#a800e0"/>
<polygon points="502.0,1035.8 504.7,1038.5 502.0,1041.2 499.3,1038.5" fill="#a800e0"/>
<polygon points="500.4,1038.9 503.1,1041.6 500.4,1044.3 497.7,1041.6" fill="#a800e0"/>
<polygon points="500.4,1043.0 503.1,1045.7 500.4,1048.4 497.7,1045.7" fill="#a800e0"/>
<polygon points="503.0,1047.1 505.7,1049.8 503.0,1052.5 500.3,1049.8" fill="#a800e0"/>
<polygon points="501.4,1053.3 504.1,1056.0 501.4,1058.7 498.7,1056.0" fill="#a800e0"/>
<polygon points="500.4,1058.4 503.1,1061.1 500.4,1063.8 497.7,1061.1" fill="#a800e0"/>
<polygon points="504.0,1061.5 506.7,1064.2 504.0,1066.9 501.3,1064.2" fill="#a800e0"/>
<polygon points="499.4,1063.5 502.1,1066.2 499.4,1068.9 496.7,1066.2" fill="#a800e0"/>
<polygon points="519.2,1029.7 521.9,1032.4 519.2,1035.1 516.5,1032.4" fill="#a800e0"/>
<polygon points="516.8,1067.6 519.5,1070.3 516.8,1073.0 514.1,1070.3" fill="#a800e0"/>
<polygon points="521.5,1067.6 524.2,1070.3 521.5,1073.0 518.8,1070.3" fill="#a800e0"/>
<polygon points="521.3,1070.2 524.0,1072.9 521.3,1075.6 518.6,1072.9" fill="#a800e0"/>
<polygon points="517.4,1072.8 520.1,1075.5 517.4,1078.2 514.7,1075.5" fill="#a800e0"/>
<polygon points="517.4,1080.0 520.1,1082.7 517.4,1085.4 514.7,1082.7" fill="#a800e0"/>
<polygon points="521.5,1080.0 524.2,1082.7 521.5,1085.4 518.8,1082.7" fill="#a800e0"/>
<polygon points="517.4,1090.2 520.1,1092.9 517.4,1095.6 514.7,1092.9" fill="#a800e0"/>
<polygon points="521.5,1090.2 524.2,1092.9 521.5,1095.6 518.8,1092.9" fill="#a800e0"/>
<polygon points="519.1,1105.1 521.8,1107.8 519.1,1110.5 516.4,1107.8" fill="#a800e0"/>
<circle cx="548.7" cy="1020.3" r="2.5" fill="none" stroke="#a800e0" stroke-width="1.5"/>
<circle cx="548.0" cy="1032.9" r="2.5" fill="none" stroke="#a800e0" stroke-width="1.5"/>
<circle cx="551.8" cy="1034.4" r="2.5" fill="none" stroke="#a800e0" stroke-width="1.5"/>
<circle cx="546.4" cy="1038.0" r="2.5" fill="none" stroke="#a800e0" stroke-width="1.5"/>
<circle cx="549.0" cy="1039.0" r="2.5" fill="none" stroke="#a800e0" stroke-width="1.5"/>
<circle cx="552.1" cy="1041.4" r="2.5" fill="none" stroke="#a800e0" stroke-width="1.5"/>
<circle cx="549.5" cy="1043.6" r="2.5" fill="none" stroke="#a800e0" stroke-width="1.5"/>
<circle cx="546.9" cy="1046.2" r="2.5" fill="none" stroke="#a800e0" stroke-width="1.5"/>
<circle cx="566.8" cy="1043.9" r="2.5" fill="none" stroke="#a800e0" stroke-width="1.5"/>
<circle cx="564.4" cy="1047.8" r="2.5" fill="none" stroke="#a800e0" stroke-width="1.5"/>
<circle cx="569.0" cy="1050.3" r="2.5" fill="none" stroke="#a800e0" stroke-width="1.5"/>
<circle cx="566.4" cy="1051.9" r="2.5" fill="none" stroke="#a800e0" stroke-width="1.5"/>
<circle cx="565.9" cy="1053.9" r="2.5" fill="none" stroke="#a800e0" stroke-width="1.5"/>
<circle cx="565.4" cy="1060.1" r="2.5" fill="none" stroke="#a800e0" stroke-width="1.5"/>
<circle cx="568.0" cy="1060.1" r="2.5" fill="none" stroke="#a800e0" stroke-width="1.5"/>
<circle cx="584.4" cy="1023.6" r="2.5" fill="none" stroke="#a800e0" stroke-width="1.5"/>
<circle cx="584.4" cy="1027.9" r="2.5" fill="none" stroke="#a800e0" stroke-width="1.5"/>
<circle cx="583.4" cy="1036.5" r="2.5" fill="none" stroke="#a800e0" stroke-width="1.5"/>
<circle cx="586.5" cy="1036.5" r="2.5" fill="none" stroke="#a800e0" stroke-width="1.5"/>
<circle cx="584.4" cy="1039.6" r="2.5" fill="none" stroke="#a800e0" stroke-width="1.5"/>
<circle cx="582.9" cy="1042.6" r="2.5" fill="none" stroke="#a800e0" stroke-width="1.5"/>
<circle cx="586.3" cy="1042.6" r="2.5" fill="none" stroke="#a800e0" stroke-width="1.5"/>
<circle cx="581.8" cy="1047.2" r="2.5" fill="none" stroke="#a800e0" stroke-width="1.5"/>
<circle cx="586.8" cy="1048.3" r="2.5" fill="none" stroke="#a800e0" stroke-width="1.5"/>
<rect x="609.5" y="1031.7" width="4.6" height="4.6" fill="none" stroke="#a800e0" stroke-width="1.5"/>
<rect x="611.9" y="1031.3" width="4.6" height="4.6" fill="none" stroke="#a800e0" stroke-width="1.5"/>
<rect x="614.3" y="1031.9" width="4.6" height="4.6" fill="none" stroke="#a800e0" stroke-width="1.5"/>
<rect x="610.2" y="1035.2" width="4.6" height="4.6" fill="none" stroke="#a800e0" stroke-width="1.5"/>
<rect x="613.5" y="1035.5" width="4.6" height="4.6" fill="none" stroke="#a800e0" stroke-width="1.5"/>
<rect x="611.0" y="1042.9" width="4.6" height="4.6" fill="none" stroke="#a800e0" stroke-width="1.5"/>
<rect x="629.5" y="1042.2" width="4.6" height="4.6" fill="none" stroke="#a800e0" stroke-width="1.5"/>
<rect x="629.5" y="1050.9" width="4.6" height="4.6" fill="none" stroke="#a800e0" stroke-width="1.5"/>
<rect x="627.2" y="1057.2" width="4.6" height="4.6" fill="none" stroke="#a800e0" stroke-width="1.5"/>
<rect x="631.2" y="1057.7" width="4.6" height="4.6" fill="none" stroke="#a800e0" stroke-width="1.5"/>
<rect x="629.2" y="1060.2" width="4.6" height="4.6" fill="none" stroke="#a800e0" stroke-width="1.5"/>
<rect x="626.3" y="1063.2" width="4.6" height="4.6" fill="none" stroke="#a800e0" stroke-width="1.5"/>
<rect x="632.3" y="1063.7" width="4.6" height="4.6" fill="none" stroke="#a800e0" stroke-width="1.5"/>
<rect x="629.2" y="1065.9" width="4.6" height="4.6" fill="none" stroke="#a800e0" stroke-width="1.5"/>
<rect x="647.1" y="1019.3" width="4.6" height="4.6" fill="none" stroke="#a800e0" stroke-width="1.5"/>
<rect x="648.1" y="1020.5" width="4.6" height="4.6" fill="none" stroke="#a800e0" stroke-width="1.5"/>
<rect x="647.5" y="1030.1" width="4.6" height="4.6" fill="none" stroke="#a800e0" stroke-width="1.5"/>
<rect x="647.5" y="1039.3" width="4.6" height="4.6" fill="none" stroke="#a800e0" stroke-width="1.5"/>
<rect x="644.9" y="1047.0" width="4.6" height="4.6" fill="none" stroke="#a800e0" stroke-width="1.5"/>
<rect x="650.1" y="1047.5" width="4.6" height="4.6" fill="none" stroke="#a800e0" stroke-width="1.5"/>
<rect x="647.5" y="1054.2" width="4.6" height="4.6" fill="none" stroke="#a800e0" stroke-width="1.5"/>
<rect x="645.9" y="1055.7" width="4.6" height="4.6" fill="none" stroke="#a800e0" stroke-width="1.5"/>
<rect x="665.3" y="1033.7" width="4.6" height="4.6" fill="none" stroke="#a800e0" stroke-width="1.5"/>
<rect x="662.9" y="1038.3" width="4.6" height="4.6" fill="none" stroke="#a800e0" stroke-width="1.5"/>
<rect x="668.0" y="1038.3" width="4.6" height="4.6" fill="none" stroke="#a800e0" stroke-width="1.5"/>
<rect x="665.3" y="1042.4" width="4.6" height="4.6" fill="none" stroke="#a800e0" stroke-width="1.5"/>
<rect x="663.4" y="1047.5" width="4.6" height="4.6" fill="none" stroke="#a800e0" stroke-width="1.5"/>
<rect x="667.5" y="1047.5" width="4.6" height="4.6" fill="none" stroke="#a800e0" stroke-width="1.5"/>
<rect x="665.3" y="1055.2" width="4.6" height="4.6" fill="none" stroke="#a800e0" stroke-width="1.5"/>
<rect x="665.3" y="1061.4" width="4.6" height="4.6" fill="none" stroke="#a800e0" stroke-width="1.5"/>
<rect x="665.3" y="1072.7" width="4.6" height="4.6" fill="none" stroke="#a800e0" stroke-width="1.5"/>
<polygon points="695.2,1023.0 698.2,1028.4 692.2,1028.4" fill="#a800e0"/>
<polygon points="696.9,1024.7 699.9,1030.1 693.9,1030.1" fill="#a800e0"/>
<polygon points="699.4,1026.4 702.4,1031.8 696.4,1031.8" fill="#a800e0"/>
<polygon points="694.9,1028.0 697.9,1033.4 691.9,1033.4" fill="#a800e0"/>
<polygon points="697.3,1029.7 700.3,1035.1 694.3,1035.1" fill="#a800e0"/>
<polygon points="699.1,1031.4 702.1,1036.8 696.1,1036.8" fill="#a800e0"/>
<polygon points="694.8,1033.0 697.8,1038.4 691.8,1038.4" fill="#a800e0"/>
<polygon points="697.0,1037.0 700.0,1042.4 694.0,1042.4" fill="#fff" fill-opacity="0.0" stroke="#a800e0" stroke-width="1.3" stroke-linejoin="miter"/>
<polygon points="696.9,1041.5 699.9,1046.9 693.9,1046.9" fill="#fff" fill-opacity="0.0" stroke="#a800e0" stroke-width="1.3" stroke-linejoin="miter"/>
<polygon points="711.9,1022.0 714.9,1027.4 708.9,1027.4" fill="#a800e0"/>
<polygon points="714.9,1023.4 717.9,1028.8 711.9,1028.8" fill="#a800e0"/>
<polygon points="715.9,1024.7 718.9,1030.1 712.9,1030.1" fill="#a800e0"/>
<polygon points="712.5,1026.0 715.5,1031.4 709.5,1031.4" fill="#a800e0"/>
<polygon points="713.8,1027.4 716.8,1032.8 710.8,1032.8" fill="#a800e0"/>
<polygon points="716.1,1028.7 719.1,1034.1 713.1,1034.1" fill="#a800e0"/>
<polygon points="712.8,1030.0 715.8,1035.4 709.8,1035.4" fill="#a800e0"/>
<polygon points="714.9,1034.3 717.9,1039.7 711.9,1039.7" fill="#fff" fill-opacity="0.0" stroke="#a800e0" stroke-width="1.3" stroke-linejoin="miter"/>
<polygon points="731.3,1026.0 734.3,1031.4 728.3,1031.4" fill="#a800e0"/>
<polygon points="733.1,1027.4 736.1,1032.8 730.1,1032.8" fill="#a800e0"/>
<polygon points="734.8,1028.9 737.8,1034.3 731.8,1034.3" fill="#a800e0"/>
<polygon points="731.8,1030.3 734.8,1035.7 728.8,1035.7" fill="#a800e0"/>
<polygon points="732.7,1031.7 735.7,1037.1 729.7,1037.1" fill="#a800e0"/>
<polygon points="735.2,1033.1 738.2,1038.5 732.2,1038.5" fill="#a800e0"/>
<polygon points="731.9,1034.5 734.9,1039.9 728.9,1039.9" fill="#a800e0"/>
<polygon points="733.4,1038.4 736.4,1043.8 730.4,1043.8" fill="#fff" fill-opacity="0.0" stroke="#a800e0" stroke-width="1.3" stroke-linejoin="miter"/>
<polygon points="760.4,1030.0 763.4,1024.6 757.4,1024.6" fill="#a800e0"/>
<polygon points="762.3,1031.6 765.3,1026.2 759.3,1026.2" fill="#a800e0"/>
<polygon points="764.6,1033.2 767.6,1027.8 761.6,1027.8" fill="#a800e0"/>
<polygon points="760.0,1034.8 763.0,1029.4 757.0,1029.4" fill="#a800e0"/>
<polygon points="762.8,1036.5 765.8,1031.1 759.8,1031.1" fill="#a800e0"/>
<polygon points="764.9,1038.1 767.9,1032.7 761.9,1032.7" fill="#a800e0"/>
<polygon points="760.5,1039.7 763.5,1034.3 757.5,1034.3" fill="#a800e0"/>
<polygon points="762.0,1041.3 765.0,1035.9 759.0,1035.9" fill="#a800e0"/>
<polygon points="764.5,1043.0 767.5,1037.6 761.5,1037.6" fill="#a800e0"/>
<polygon points="761.9,1049.5 764.9,1044.1 758.9,1044.1" fill="none" stroke="#a800e0" stroke-width="1.3"/>
<polygon points="780.4,1021.2 783.4,1015.8 777.4,1015.8" fill="none" stroke="#a800e0" stroke-width="1.3"/>
<polygon points="777.5,1029.5 780.5,1024.1 774.5,1024.1" fill="#a800e0"/>
<polygon points="779.7,1031.3 782.7,1025.9 776.7,1025.9" fill="#a800e0"/>
<polygon points="782.2,1033.1 785.2,1027.7 779.2,1027.7" fill="#a800e0"/>
<polygon points="777.5,1034.9 780.5,1029.5 774.5,1029.5" fill="#a800e0"/>
<polygon points="779.6,1036.7 782.6,1031.3 776.6,1031.3" fill="#a800e0"/>
<polygon points="781.8,1038.5 784.8,1033.1 778.8,1033.1" fill="#a800e0"/>
<polygon points="777.1,1040.3 780.1,1034.9 774.1,1034.9" fill="#a800e0"/>
<polygon points="779.6,1042.2 782.6,1036.8 776.6,1036.8" fill="#a800e0"/>
<polygon points="781.8,1044.0 784.8,1038.6 778.8,1038.6" fill="#a800e0"/>
<polygon points="798.2,1009.9 801.2,1004.5 795.2,1004.5" fill="none" stroke="#a800e0" stroke-width="1.3"/>
<polygon points="798.2,1019.6 801.2,1014.2 795.2,1014.2" fill="none" stroke="#a800e0" stroke-width="1.3"/>
<polygon points="798.2,1027.3 801.2,1021.9 795.2,1021.9" fill="#a800e0"/>
<polygon points="795.6,1033.0 798.6,1027.6 792.6,1027.6" fill="#a800e0"/>
<polygon points="798.4,1033.9 801.4,1028.5 795.4,1028.5" fill="#a800e0"/>
<polygon points="801.0,1034.8 804.0,1029.4 798.0,1029.4" fill="#a800e0"/>
<polygon points="795.2,1035.8 798.2,1030.4 792.2,1030.4" fill="#a800e0"/>
<polygon points="797.6,1036.7 800.6,1031.3 794.6,1031.3" fill="#a800e0"/>
<polygon points="800.6,1037.7 803.6,1032.3 797.6,1032.3" fill="#a800e0"/>
<polygon points="795.4,1038.6 798.4,1033.2 792.4,1033.2" fill="#a800e0"/>
<polygon points="798.6,1039.5 801.6,1034.1 795.6,1034.1" fill="#a800e0"/>
<polygon points="801.0,1040.5 804.0,1035.1 798.0,1035.1" fill="#a800e0"/>
<polygon points="813.5,1033.5 816.5,1028.1 810.5,1028.1" fill="#a800e0"/>
<polygon points="816.2,1035.0 819.2,1029.6 813.2,1029.6" fill="#a800e0"/>
<polygon points="818.5,1036.5 821.5,1031.1 815.5,1031.1" fill="#a800e0"/>
<polygon points="814.2,1038.0 817.2,1032.6 811.2,1032.6" fill="#a800e0"/>
<polygon points="815.6,1039.5 818.6,1034.1 812.6,1034.1" fill="#a800e0"/>
<polygon points="817.9,1041.0 820.9,1035.6 814.9,1035.6" fill="#a800e0"/>
<polygon points="813.3,1042.5 816.3,1037.1 810.3,1037.1" fill="#a800e0"/>
<polygon points="815.7,1044.0 818.7,1038.6 812.7,1038.6" fill="#a800e0"/>
<polygon points="818.5,1045.5 821.5,1040.1 815.5,1040.1" fill="#a800e0"/>
<defs><filter id="ctb" x="-5%" y="-5%" width="110%" height="110%"><feGaussianBlur stdDeviation="0.5"/></filter></defs>
<text transform="translate(17.3 1200.6) scale(0.96 1)" font-family="Liberation Serif, serif" font-weight="bold" font-size="24" fill="#000">G</text>
<text transform="translate(442.8 1202.6) scale(0.96 1)" font-family="Liberation Serif, serif" font-weight="bold" font-size="24" fill="#000">H</text>
<defs><clipPath id="ct1"><circle cx="144.3" cy="1265.3" r="81.6"/></clipPath><clipPath id="ct1s"><rect x="61.2" y="1182.4" width="166.2" height="166.4"/></clipPath></defs>
<rect x="61.2" y="1182.4" width="166.2" height="166.4" fill="#000"/>
<g clip-path="url(#ct1s)">
<circle cx="144.3" cy="1265.3" r="81.6" fill="#303030"/>
<g clip-path="url(#ct1)" filter="url(#ctb)">
<path d="M90 1322Q146 1334 202 1320L202 1342L90 1342Z" fill="#151515"/>
<path d="M98.5 1331.6Q144.4 1342.5 196.6 1329.1" stroke="#f4f4f4" stroke-width="1.7" fill="none"/>
<path d="M98 1336Q146 1341 197 1334V1352H98Z" fill="#3a3a3a"/>
<path d="M58.0 1280.0C59.4 1274.2 60.2 1278.1 64.1 1275.5C68.0 1272.9 75.4 1267.9 81.3 1264.4C87.2 1260.9 92.8 1256.8 99.5 1254.3C106.2 1251.8 114.3 1249.7 121.7 1249.2C129.1 1248.7 136.9 1251.2 144.0 1251.4C151.1 1251.6 157.5 1249.6 164.2 1250.2C170.9 1250.8 177.7 1253.1 184.4 1255.3C191.2 1257.5 197.9 1260.0 204.7 1263.4C211.4 1266.8 220.3 1272.4 224.9 1275.5C229.5 1278.6 230.8 1276.2 232.0 1282.0C233.2 1287.8 234.8 1303.3 232.0 1310.0C229.2 1316.7 220.9 1319.2 215.0 1322.0C209.1 1324.8 204.4 1326.5 196.6 1327.1C188.8 1327.7 176.1 1326.0 168.3 1325.5C160.5 1325.0 154.1 1324.5 150.0 1324.0C145.9 1323.5 146.0 1322.4 144.0 1322.4C142.0 1322.4 140.7 1323.6 138.0 1324.2C135.3 1324.8 134.9 1325.9 127.8 1326.1C120.7 1326.2 104.3 1325.8 95.5 1325.1C86.7 1324.4 81.6 1324.5 75.0 1322.0C68.4 1319.5 58.8 1317.0 56.0 1310.0C53.2 1303.0 56.6 1285.8 58.0 1280.0Z" fill="#d0d0d0"/>
<path d="M128 1253.5Q144 1257.5 160 1253.5L158 1257.5Q144 1261 130 1257.5Z" fill="#ececec" opacity="0.8"/>
<ellipse cx="144" cy="1294" rx="7" ry="6" fill="#e2e2e2"/>
<path d="M76 1300L92 1322M196 1324L214 1300M160 1318L198 1317" stroke="#ececec" stroke-width="1.6" fill="none" opacity="0.85"/>
<ellipse cx="80" cy="1277" rx="6" ry="5" fill="#b9b9b9"/><ellipse cx="207" cy="1277" rx="6" ry="5" fill="#bdbdbd"/>
<circle cx="91" cy="1276" r="2.2" fill="#ececec"/><circle cx="194" cy="1277" r="2.2" fill="#ececec"/>
<path d="M91.4 1286.6C91.7 1282.5 93.9 1277.3 97.0 1274.0C100.1 1270.7 105.9 1268.1 110.0 1266.5C114.1 1264.9 117.9 1263.8 121.7 1264.4C125.5 1265.0 129.6 1267.3 133.0 1270.0C136.4 1272.7 141.3 1276.9 142.0 1280.6C142.7 1284.3 139.7 1288.6 137.0 1292.0C134.3 1295.4 130.4 1298.1 125.8 1300.8C121.2 1303.5 114.6 1308.2 109.6 1307.9C104.5 1307.6 98.5 1302.3 95.5 1298.8C92.5 1295.2 91.2 1290.7 91.4 1286.6Z" fill="#2a2a2a"/>
<path d="M156.1 1270.5C156.5 1267.7 157.5 1266.0 160.2 1265.4C162.8 1264.8 167.7 1265.4 172.0 1267.0C176.3 1268.6 182.2 1271.7 186.0 1275.0C189.8 1278.3 194.1 1282.8 194.6 1286.6C195.1 1290.4 192.0 1294.8 189.0 1298.0C186.0 1301.2 180.7 1305.5 176.4 1305.8C172.1 1306.1 167.1 1302.5 163.0 1300.0C158.9 1297.5 152.9 1293.7 152.1 1290.7C151.3 1287.7 157.3 1285.4 158.0 1282.0C158.7 1278.6 155.7 1273.3 156.1 1270.5Z" fill="#2a2a2a"/>
<circle cx="145" cy="1277.5" r="3" fill="#0c0c0c"/>
<circle cx="130.0" cy="1275.2" r="0.57" fill="#9a9a9a"/>
<circle cx="113.9" cy="1292.7" r="0.70" fill="#9a9a9a"/>
<circle cx="133.6" cy="1283.0" r="0.69" fill="#9a9a9a"/>
<circle cx="127.8" cy="1274.1" r="0.78" fill="#9a9a9a"/>
<circle cx="102.0" cy="1282.6" r="0.36" fill="#9a9a9a"/>
<circle cx="102.3" cy="1283.3" r="0.57" fill="#9a9a9a"/>
<circle cx="102.9" cy="1274.2" r="0.45" fill="#9a9a9a"/>
<circle cx="114.4" cy="1276.8" r="0.36" fill="#9a9a9a"/>
<circle cx="133.7" cy="1288.5" r="0.64" fill="#9a9a9a"/>
<circle cx="108.0" cy="1295.7" r="0.67" fill="#9a9a9a"/>
<circle cx="133.3" cy="1293.5" r="0.49" fill="#9a9a9a"/>
<circle cx="134.2" cy="1286.2" r="0.62" fill="#9a9a9a"/>
<circle cx="131.7" cy="1282.2" r="0.43" fill="#9a9a9a"/>
<circle cx="119.0" cy="1294.9" r="0.65" fill="#9a9a9a"/>
<circle cx="110.1" cy="1283.3" r="0.58" fill="#9a9a9a"/>
<circle cx="130.7" cy="1286.9" r="0.53" fill="#9a9a9a"/>
<circle cx="111.1" cy="1271.5" r="0.58" fill="#9a9a9a"/>
<circle cx="118.5" cy="1301.9" r="0.45" fill="#9a9a9a"/>
<circle cx="120.5" cy="1284.2" r="0.47" fill="#9a9a9a"/>
<circle cx="117.5" cy="1288.7" r="0.54" fill="#9a9a9a"/>
<circle cx="120.1" cy="1272.8" r="0.58" fill="#9a9a9a"/>
<circle cx="115.7" cy="1279.7" r="0.51" fill="#9a9a9a"/>
<circle cx="118.5" cy="1291.4" r="0.63" fill="#9a9a9a"/>
<circle cx="120.8" cy="1301.9" r="0.71" fill="#9a9a9a"/>
<circle cx="129.5" cy="1275.0" r="0.40" fill="#9a9a9a"/>
<circle cx="122.9" cy="1279.2" r="0.38" fill="#9a9a9a"/>
<circle cx="99.1" cy="1287.2" r="0.43" fill="#9a9a9a"/>
<circle cx="104.9" cy="1295.3" r="0.55" fill="#9a9a9a"/>
<circle cx="107.4" cy="1284.8" r="0.36" fill="#9a9a9a"/>
<circle cx="110.7" cy="1282.5" r="0.43" fill="#9a9a9a"/>
<circle cx="117.0" cy="1273.2" r="0.62" fill="#9a9a9a"/>
<circle cx="126.9" cy="1293.8" r="0.60" fill="#9a9a9a"/>
<circle cx="131.7" cy="1286.7" r="0.45" fill="#9a9a9a"/>
<circle cx="124.1" cy="1281.4" r="0.61" fill="#9a9a9a"/>
<circle cx="107.4" cy="1291.8" r="0.38" fill="#9a9a9a"/>
<circle cx="112.2" cy="1275.1" r="0.35" fill="#9a9a9a"/>
<circle cx="120.1" cy="1271.5" r="0.74" fill="#9a9a9a"/>
<circle cx="117.0" cy="1280.6" r="0.51" fill="#9a9a9a"/>
<circle cx="101.5" cy="1293.7" r="0.54" fill="#9a9a9a"/>
<circle cx="125.0" cy="1277.0" r="0.57" fill="#9a9a9a"/>
<circle cx="101.2" cy="1278.4" r="0.79" fill="#9a9a9a"/>
<circle cx="130.9" cy="1278.9" r="0.45" fill="#9a9a9a"/>
<circle cx="103.0" cy="1295.9" r="0.39" fill="#9a9a9a"/>
<circle cx="101.9" cy="1297.4" r="0.62" fill="#9a9a9a"/>
<circle cx="133.9" cy="1280.2" r="0.50" fill="#9a9a9a"/>
<circle cx="133.3" cy="1279.0" r="0.63" fill="#9a9a9a"/>
<circle cx="180.8" cy="1277.6" r="0.62" fill="#9a9a9a"/>
<circle cx="178.1" cy="1288.8" r="0.42" fill="#9a9a9a"/>
<circle cx="170.5" cy="1281.1" r="0.68" fill="#9a9a9a"/>
<circle cx="175.4" cy="1283.2" r="0.47" fill="#9a9a9a"/>
<circle cx="172.0" cy="1278.1" r="0.52" fill="#9a9a9a"/>
<circle cx="176.1" cy="1274.7" r="0.36" fill="#9a9a9a"/>
<circle cx="181.0" cy="1272.5" r="0.75" fill="#9a9a9a"/>
<circle cx="186.3" cy="1295.1" r="0.76" fill="#9a9a9a"/>
<circle cx="184.4" cy="1294.3" r="0.56" fill="#9a9a9a"/>
<circle cx="174.8" cy="1285.1" r="0.77" fill="#9a9a9a"/>
<circle cx="173.5" cy="1299.1" r="0.51" fill="#9a9a9a"/>
<circle cx="171.8" cy="1288.3" r="0.76" fill="#9a9a9a"/>
<circle cx="183.1" cy="1285.0" r="0.45" fill="#9a9a9a"/>
<circle cx="166.0" cy="1293.7" r="0.42" fill="#9a9a9a"/>
<circle cx="173.7" cy="1286.2" r="0.64" fill="#9a9a9a"/>
<circle cx="177.3" cy="1277.8" r="0.44" fill="#9a9a9a"/>
<circle cx="180.1" cy="1276.2" r="0.45" fill="#9a9a9a"/>
<circle cx="174.5" cy="1300.0" r="0.46" fill="#9a9a9a"/>
<circle cx="170.2" cy="1294.4" r="0.36" fill="#9a9a9a"/>
<circle cx="167.6" cy="1272.0" r="0.65" fill="#9a9a9a"/>
<circle cx="159.9" cy="1293.4" r="0.52" fill="#9a9a9a"/>
<circle cx="166.8" cy="1290.2" r="0.68" fill="#9a9a9a"/>
<circle cx="184.9" cy="1295.3" r="0.76" fill="#9a9a9a"/>
<circle cx="182.3" cy="1284.4" r="0.45" fill="#9a9a9a"/>
<circle cx="180.4" cy="1278.0" r="0.40" fill="#9a9a9a"/>
<circle cx="171.3" cy="1300.9" r="0.41" fill="#9a9a9a"/>
<circle cx="177.2" cy="1281.1" r="0.58" fill="#9a9a9a"/>
<circle cx="163.1" cy="1289.8" r="0.54" fill="#9a9a9a"/>
<circle cx="162.0" cy="1283.2" r="0.46" fill="#9a9a9a"/>
<circle cx="177.4" cy="1290.6" r="0.71" fill="#9a9a9a"/>
<circle cx="182.5" cy="1275.5" r="0.54" fill="#9a9a9a"/>
<circle cx="161.3" cy="1286.4" r="0.56" fill="#9a9a9a"/>
<circle cx="165.3" cy="1291.3" r="0.45" fill="#9a9a9a"/>
<circle cx="183.3" cy="1282.8" r="0.58" fill="#9a9a9a"/>
<circle cx="170.0" cy="1286.5" r="0.43" fill="#9a9a9a"/>
<circle cx="167.7" cy="1286.3" r="0.76" fill="#9a9a9a"/>
<circle cx="178.3" cy="1276.9" r="0.79" fill="#9a9a9a"/>
<circle cx="165.2" cy="1299.5" r="0.65" fill="#9a9a9a"/>
<circle cx="169.7" cy="1284.9" r="0.44" fill="#9a9a9a"/>
<circle cx="164.2" cy="1280.3" r="0.77" fill="#9a9a9a"/>
<ellipse cx="181.5" cy="1294.5" rx="3.2" ry="2.6" fill="#111" stroke="#8a8a8a" stroke-width="0.8"/><ellipse cx="175" cy="1301" rx="2.2" ry="1.8" fill="#111" stroke="#8a8a8a" stroke-width="0.7"/>
<path d="M166 1290Q172 1292 174 1298" stroke="#777" stroke-width="2.2" fill="none" opacity="0.7"/>
</g></g>
<rect x="149.2" y="1270.6" width="59.3" height="50.8" fill="none" stroke="#f00000" stroke-width="2.4"/>
<text x="144.8" y="1202.9" font-family="Liberation Serif, serif" font-size="23.4" text-anchor="middle" fill="#efefef" textLength="104" lengthAdjust="spacingAndGlyphs">Inpatient C</text>
<text x="145.6" y="1229.3" font-family="Liberation Serif, serif" font-size="23.4" text-anchor="middle" fill="#efefef" textLength="155" lengthAdjust="spacingAndGlyphs">before treatment</text>
<defs><clipPath id="ct2"><circle cx="328.4" cy="1265.5" r="82"/></clipPath><clipPath id="ct2s"><rect x="244.8" y="1182.4" width="166.7" height="166.4"/></clipPath></defs>
<rect x="244.8" y="1182.4" width="166.7" height="166.4" fill="#000"/>
<g clip-path="url(#ct2s)">
<circle cx="328.4" cy="1265.5" r="82" fill="#303030"/>
<g clip-path="url(#ct2)" filter="url(#ctb)">
<path d="M262 1314Q329 1334 394 1314L394 1352L262 1352Z" fill="#161616"/>
<path d="M271.4 1324.1Q330.5 1338.5 383.6 1324.1" stroke="#f0f0f0" stroke-width="1.5" fill="none"/>
<path d="M284.5 1334.4Q330.0 1342.8 371.5 1334.4" stroke="#cfcfcf" stroke-width="4.6" fill="none"/>
<path d="M298 1343.3Q329.0 1347.3 360 1343.3" stroke="#8f8f8f" stroke-width="2.6" fill="none"/>
<path d="M240.0 1275.0C241.2 1270.6 242.4 1272.2 247.1 1269.4C251.8 1266.6 261.1 1261.5 268.3 1258.3C275.6 1255.1 283.9 1252.2 290.6 1250.2C297.4 1248.2 303.1 1246.7 308.8 1246.2C314.5 1245.7 319.3 1247.4 325.0 1247.4C330.7 1247.4 336.8 1245.6 343.2 1246.2C349.6 1246.8 356.0 1248.9 363.4 1251.2C370.8 1253.5 380.1 1256.6 387.7 1260.3C395.3 1264.0 404.2 1270.2 408.9 1273.5C413.6 1276.8 415.1 1275.6 416.0 1280.0C416.9 1284.4 417.7 1294.7 414.0 1300.0C410.3 1305.3 399.4 1308.5 393.7 1312.0C388.0 1315.5 386.7 1319.7 379.6 1321.0C372.5 1322.3 359.1 1320.3 351.3 1320.0C343.6 1319.7 337.5 1319.8 333.1 1319.0C328.7 1318.2 327.7 1315.5 325.0 1315.5C322.3 1315.5 323.0 1318.1 316.9 1319.0C310.8 1319.9 296.7 1321.0 288.6 1321.0C280.5 1321.0 273.7 1321.5 268.3 1319.0C262.9 1316.5 260.9 1309.8 256.2 1306.0C251.5 1302.2 242.7 1301.2 240.0 1296.0C237.3 1290.8 238.8 1279.4 240.0 1275.0Z" fill="#d0d0d0"/>
<path d="M308 1249.5Q325 1253.5 342 1249.5L340 1253.5Q325 1257 310 1253.5Z" fill="#ececec" opacity="0.8"/>
<ellipse cx="325" cy="1288" rx="6.5" ry="6" fill="#e0e0e0"/>
<path d="M262 1296L276 1317M366 1315L384 1296M350 1311L383 1310" stroke="#ececec" stroke-width="1.6" fill="none" opacity="0.85"/>
<ellipse cx="263" cy="1271" rx="6" ry="5" fill="#b9b9b9"/><ellipse cx="393" cy="1273" rx="6" ry="5" fill="#bdbdbd"/>
<circle cx="274" cy="1271" r="2.2" fill="#ececec"/><circle cx="378" cy="1272" r="2.2" fill="#ececec"/>
<path d="M320 1244L330 1244L333 1247L317 1247Z" fill="#555"/>
<path d="M275.4 1280.6C275.8 1276.8 278.2 1271.1 281.0 1268.0C283.8 1264.9 288.4 1263.3 292.0 1262.0C295.6 1260.7 299.0 1259.9 302.7 1260.3C306.4 1260.7 310.6 1262.5 314.0 1264.5C317.4 1266.5 322.5 1269.1 323.0 1272.5C323.5 1275.9 320.1 1281.3 317.0 1285.0C313.9 1288.7 308.8 1292.2 304.7 1294.7C300.6 1297.2 297.0 1300.5 292.6 1299.8C288.2 1299.1 281.4 1293.9 278.5 1290.7C275.6 1287.5 275.0 1284.4 275.4 1280.6Z" fill="#2a2a2a"/>
<path d="M339.1 1265.4C340.5 1263.6 342.4 1261.7 345.2 1261.4C348.0 1261.1 352.2 1261.9 356.0 1263.5C359.8 1265.1 364.8 1267.8 368.0 1271.0C371.2 1274.2 375.6 1279.3 375.5 1282.6C375.4 1285.9 371.4 1287.8 367.4 1290.7C363.4 1293.6 355.9 1299.9 351.3 1299.8C346.7 1299.7 343.2 1293.5 340.0 1290.0C336.8 1286.5 332.6 1281.5 332.1 1278.5C331.6 1275.5 335.8 1274.2 337.0 1272.0C338.2 1269.8 337.7 1267.2 339.1 1265.4Z" fill="#2a2a2a"/>
<circle cx="327" cy="1270.5" r="3" fill="#0c0c0c"/>
<circle cx="286.4" cy="1281.8" r="0.52" fill="#9a9a9a"/>
<circle cx="304.0" cy="1285.0" r="0.38" fill="#9a9a9a"/>
<circle cx="287.4" cy="1269.4" r="0.80" fill="#9a9a9a"/>
<circle cx="297.6" cy="1293.5" r="0.56" fill="#9a9a9a"/>
<circle cx="305.7" cy="1266.0" r="0.64" fill="#9a9a9a"/>
<circle cx="316.7" cy="1280.9" r="0.68" fill="#9a9a9a"/>
<circle cx="311.4" cy="1283.6" r="0.49" fill="#9a9a9a"/>
<circle cx="297.7" cy="1288.8" r="0.75" fill="#9a9a9a"/>
<circle cx="294.0" cy="1292.0" r="0.55" fill="#9a9a9a"/>
<circle cx="295.9" cy="1285.1" r="0.49" fill="#9a9a9a"/>
<circle cx="299.3" cy="1275.4" r="0.51" fill="#9a9a9a"/>
<circle cx="303.1" cy="1283.4" r="0.76" fill="#9a9a9a"/>
<circle cx="307.2" cy="1266.5" r="0.74" fill="#9a9a9a"/>
<circle cx="302.3" cy="1288.6" r="0.45" fill="#9a9a9a"/>
<circle cx="314.9" cy="1282.9" r="0.48" fill="#9a9a9a"/>
<circle cx="313.4" cy="1276.4" r="0.42" fill="#9a9a9a"/>
<circle cx="289.1" cy="1290.8" r="0.74" fill="#9a9a9a"/>
<circle cx="294.6" cy="1284.4" r="0.42" fill="#9a9a9a"/>
<circle cx="297.1" cy="1280.8" r="0.64" fill="#9a9a9a"/>
<circle cx="303.6" cy="1282.4" r="0.63" fill="#9a9a9a"/>
<circle cx="295.7" cy="1288.8" r="0.46" fill="#9a9a9a"/>
<circle cx="300.0" cy="1281.9" r="0.36" fill="#9a9a9a"/>
<circle cx="294.9" cy="1283.2" r="0.36" fill="#9a9a9a"/>
<circle cx="304.6" cy="1285.3" r="0.38" fill="#9a9a9a"/>
<circle cx="305.1" cy="1278.7" r="0.66" fill="#9a9a9a"/>
<circle cx="291.9" cy="1288.3" r="0.68" fill="#9a9a9a"/>
<circle cx="287.1" cy="1278.3" r="0.62" fill="#9a9a9a"/>
<circle cx="290.4" cy="1274.6" r="0.49" fill="#9a9a9a"/>
<circle cx="292.7" cy="1283.8" r="0.49" fill="#9a9a9a"/>
<circle cx="293.1" cy="1290.9" r="0.36" fill="#9a9a9a"/>
<circle cx="302.3" cy="1289.4" r="0.49" fill="#9a9a9a"/>
<circle cx="295.9" cy="1287.9" r="0.40" fill="#9a9a9a"/>
<circle cx="290.5" cy="1273.4" r="0.73" fill="#9a9a9a"/>
<circle cx="296.0" cy="1294.2" r="0.43" fill="#9a9a9a"/>
<circle cx="291.2" cy="1286.0" r="0.75" fill="#9a9a9a"/>
<circle cx="296.7" cy="1269.0" r="0.40" fill="#9a9a9a"/>
<circle cx="300.4" cy="1267.6" r="0.71" fill="#9a9a9a"/>
<circle cx="288.4" cy="1292.3" r="0.64" fill="#9a9a9a"/>
<circle cx="313.7" cy="1273.8" r="0.41" fill="#9a9a9a"/>
<circle cx="289.0" cy="1291.8" r="0.47" fill="#9a9a9a"/>
<circle cx="291.6" cy="1276.7" r="0.54" fill="#9a9a9a"/>
<circle cx="285.7" cy="1289.8" r="0.73" fill="#9a9a9a"/>
<circle cx="306.8" cy="1280.8" r="0.48" fill="#9a9a9a"/>
<circle cx="291.4" cy="1269.1" r="0.38" fill="#9a9a9a"/>
<circle cx="349.4" cy="1267.0" r="0.38" fill="#9a9a9a"/>
<circle cx="341.8" cy="1281.9" r="0.47" fill="#9a9a9a"/>
<circle cx="345.6" cy="1285.5" r="0.68" fill="#9a9a9a"/>
<circle cx="361.6" cy="1280.7" r="0.43" fill="#9a9a9a"/>
<circle cx="356.1" cy="1272.7" r="0.76" fill="#9a9a9a"/>
<circle cx="357.2" cy="1295.4" r="0.73" fill="#9a9a9a"/>
<circle cx="354.4" cy="1277.1" r="0.62" fill="#9a9a9a"/>
<circle cx="351.0" cy="1267.3" r="0.49" fill="#9a9a9a"/>
<circle cx="344.3" cy="1281.9" r="0.56" fill="#9a9a9a"/>
<circle cx="340.6" cy="1277.1" r="0.44" fill="#9a9a9a"/>
<circle cx="359.8" cy="1271.8" r="0.51" fill="#9a9a9a"/>
<circle cx="364.9" cy="1273.5" r="0.60" fill="#9a9a9a"/>
<circle cx="365.7" cy="1285.0" r="0.46" fill="#9a9a9a"/>
<circle cx="346.6" cy="1267.9" r="0.56" fill="#9a9a9a"/>
<circle cx="359.3" cy="1292.9" r="0.48" fill="#9a9a9a"/>
<circle cx="340.4" cy="1278.3" r="0.41" fill="#9a9a9a"/>
<circle cx="366.5" cy="1275.1" r="0.48" fill="#9a9a9a"/>
<circle cx="350.7" cy="1269.1" r="0.38" fill="#9a9a9a"/>
<circle cx="366.0" cy="1277.0" r="0.79" fill="#9a9a9a"/>
<circle cx="353.0" cy="1270.4" r="0.53" fill="#9a9a9a"/>
<circle cx="368.6" cy="1280.4" r="0.36" fill="#9a9a9a"/>
<circle cx="343.2" cy="1270.5" r="0.44" fill="#9a9a9a"/>
<circle cx="366.8" cy="1290.0" r="0.57" fill="#9a9a9a"/>
<circle cx="360.9" cy="1292.2" r="0.64" fill="#9a9a9a"/>
<circle cx="367.9" cy="1281.6" r="0.64" fill="#9a9a9a"/>
<circle cx="362.2" cy="1271.5" r="0.77" fill="#9a9a9a"/>
<circle cx="359.9" cy="1283.2" r="0.69" fill="#9a9a9a"/>
<circle cx="356.2" cy="1295.3" r="0.44" fill="#9a9a9a"/>
<circle cx="361.5" cy="1273.9" r="0.75" fill="#9a9a9a"/>
<circle cx="366.0" cy="1279.4" r="0.59" fill="#9a9a9a"/>
<circle cx="358.2" cy="1280.1" r="0.74" fill="#9a9a9a"/>
<circle cx="348.0" cy="1290.9" r="0.59" fill="#9a9a9a"/>
<circle cx="355.9" cy="1275.9" r="0.70" fill="#9a9a9a"/>
<circle cx="345.7" cy="1270.1" r="0.57" fill="#9a9a9a"/>
<circle cx="351.1" cy="1294.5" r="0.70" fill="#9a9a9a"/>
<circle cx="340.6" cy="1272.8" r="0.73" fill="#9a9a9a"/>
<circle cx="350.6" cy="1292.1" r="0.43" fill="#9a9a9a"/>
<circle cx="338.6" cy="1280.3" r="0.50" fill="#9a9a9a"/>
<circle cx="345.7" cy="1282.3" r="0.57" fill="#9a9a9a"/>
<circle cx="363.5" cy="1279.9" r="0.38" fill="#9a9a9a"/>
<ellipse cx="362" cy="1293" rx="3" ry="2.4" fill="#111" stroke="#8a8a8a" stroke-width="0.8"/>
<path d="M346 1290Q352 1296 358 1298" stroke="#999" stroke-width="2.4" fill="none" opacity="0.7"/>
</g></g>
<rect x="327.2" y="1272.7" width="60.3" height="50.8" fill="none" stroke="#f00000" stroke-width="2.4"/>
<text x="330.4" y="1204.5" font-family="Liberation Serif, serif" font-size="23.4" text-anchor="middle" fill="#efefef" textLength="104" lengthAdjust="spacingAndGlyphs">Inpatient C</text>
<text x="330.2" y="1231.5" font-family="Liberation Serif, serif" font-size="23.4" text-anchor="middle" fill="#efefef" textLength="138.5" lengthAdjust="spacingAndGlyphs">after treatment</text>
<defs><clipPath id="ct3"><circle cx="555.4" cy="1268.4" r="82"/></clipPath><clipPath id="ct3s"><rect x="471.8" y="1185.6" width="167.2" height="165.9"/></clipPath></defs>
<rect x="471.8" y="1185.6" width="167.2" height="165.9" fill="#000"/>
<g clip-path="url(#ct3s)">
<circle cx="555.4" cy="1268.4" r="82" fill="#303030"/>
<g clip-path="url(#ct3)" filter="url(#ctb)">
<path d="M490 1314Q554 1348 624 1312L624 1356L490 1356Z" fill="#1a1a1a"/>
<path d="M493.3 1319.5Q551.0 1353.8 620.7 1318.5" stroke="#8a8a8a" stroke-width="1.4" fill="none"/>
<path d="M507.5 1333.2Q556.0 1343.8 604.6 1333.2" stroke="#e6e6e6" stroke-width="1.5" fill="none"/>
<path d="M507 1337Q556 1342.5 605 1337V1356H507Z" fill="#3a3a3a"/>
<path d="M480.2 1285.7C480.0 1280.4 481.1 1273.4 483.0 1268.0C484.9 1262.6 488.1 1257.6 491.3 1253.3C494.5 1249.0 497.9 1245.0 502.0 1242.0C506.1 1239.0 509.0 1236.4 515.6 1235.1C522.2 1233.8 536.0 1233.9 541.9 1234.1C547.8 1234.3 548.5 1235.5 551.0 1236.5C553.5 1237.5 555.0 1240.4 557.0 1240.4C559.0 1240.4 560.1 1237.5 563.0 1236.5C565.9 1235.5 568.3 1234.3 574.2 1234.1C580.1 1233.9 592.2 1233.6 598.5 1235.1C604.8 1236.6 608.0 1239.6 612.0 1243.0C616.0 1246.4 619.8 1250.8 622.8 1255.3C625.8 1259.8 628.3 1264.9 630.0 1270.0C631.7 1275.1 633.1 1280.5 632.9 1285.7C632.7 1290.9 631.0 1296.3 629.0 1301.0C627.0 1305.7 624.7 1310.3 620.7 1314.0C616.7 1317.7 610.7 1320.6 605.0 1323.0C599.3 1325.4 594.9 1326.8 586.4 1328.2C577.9 1329.6 564.8 1331.4 554.0 1331.2C543.2 1331.0 529.8 1328.7 521.6 1327.1C513.4 1325.5 509.7 1323.7 505.0 1321.5C500.3 1319.3 496.8 1317.6 493.3 1314.0C489.8 1310.4 486.2 1304.7 484.0 1300.0C481.8 1295.3 480.4 1291.0 480.2 1285.7Z" fill="#d0d0d0"/>
<path d="M480.2 1285.7C480.0 1280.4 481.1 1273.4 483.0 1268.0C484.9 1262.6 488.1 1257.6 491.3 1253.3C494.5 1249.0 497.9 1245.0 502.0 1242.0C506.1 1239.0 509.0 1236.4 515.6 1235.1C522.2 1233.8 536.0 1233.9 541.9 1234.1C547.8 1234.3 548.5 1235.5 551.0 1236.5C553.5 1237.5 555.0 1240.4 557.0 1240.4C559.0 1240.4 560.1 1237.5 563.0 1236.5C565.9 1235.5 568.3 1234.3 574.2 1234.1C580.1 1233.9 592.2 1233.6 598.5 1235.1C604.8 1236.6 608.0 1239.6 612.0 1243.0C616.0 1246.4 619.8 1250.8 622.8 1255.3C625.8 1259.8 628.3 1264.9 630.0 1270.0C631.7 1275.1 633.1 1280.5 632.9 1285.7C632.7 1290.9 631.0 1296.3 629.0 1301.0C627.0 1305.7 624.7 1310.3 620.7 1314.0C616.7 1317.7 610.7 1320.6 605.0 1323.0C599.3 1325.4 594.9 1326.8 586.4 1328.2C577.9 1329.6 564.8 1331.4 554.0 1331.2C543.2 1331.0 529.8 1328.7 521.6 1327.1C513.4 1325.5 509.7 1323.7 505.0 1321.5C500.3 1319.3 496.8 1317.6 493.3 1314.0C489.8 1310.4 486.2 1304.7 484.0 1300.0C481.8 1295.3 480.4 1291.0 480.2 1285.7Z" fill="none" stroke="#dcdcdc" stroke-width="3" opacity="0.55" transform="translate(556.6 1282.6) scale(0.93 0.91) translate(-556.6 -1282.6)"/>
<ellipse cx="556" cy="1302.5" rx="6" ry="6.5" fill="#e6e6e6"/>
<path d="M500.4 1281.6C500.3 1277.2 501.1 1272.0 502.5 1268.0C503.9 1264.0 506.2 1260.4 508.5 1257.4C510.8 1254.4 513.1 1251.9 516.0 1250.0C518.9 1248.1 521.5 1246.7 525.7 1246.2C529.9 1245.7 536.3 1246.2 541.0 1247.0C545.7 1247.8 552.8 1249.3 554.0 1251.3C555.2 1253.3 549.4 1256.3 548.0 1259.0C546.6 1261.7 545.6 1264.5 545.9 1267.5C546.1 1270.5 547.8 1274.0 549.5 1277.0C551.2 1280.0 555.3 1282.5 556.0 1285.7C556.7 1288.9 554.9 1292.6 553.5 1296.0C552.1 1299.4 550.0 1303.2 547.9 1305.9C545.8 1308.7 543.7 1310.8 541.0 1312.5C538.3 1314.2 535.4 1316.0 531.7 1316.0C528.0 1316.0 522.7 1314.2 519.0 1312.5C515.3 1310.8 512.2 1308.9 509.5 1305.9C506.8 1302.9 504.5 1298.5 503.0 1294.5C501.5 1290.5 500.5 1286.0 500.4 1281.6Z" fill="#2a2a2a"/>
<path d="M571.0 1247.5C572.5 1246.0 580.1 1245.1 584.3 1245.2C588.5 1245.3 592.3 1246.3 596.0 1248.0C599.7 1249.7 603.8 1252.1 606.6 1255.3C609.4 1258.5 611.5 1263.0 613.0 1267.0C614.5 1271.0 615.4 1275.6 615.7 1279.6C616.0 1283.6 615.9 1287.3 615.0 1291.0C614.1 1294.7 612.4 1298.7 610.6 1301.9C608.8 1305.1 606.7 1307.7 604.0 1310.0C601.3 1312.3 597.7 1315.5 594.4 1316.0C591.1 1316.5 587.1 1315.2 584.0 1313.0C580.9 1310.8 577.7 1306.8 576.0 1303.0C574.3 1299.2 573.3 1293.7 574.0 1290.0C574.7 1286.3 578.3 1284.0 580.0 1281.0C581.7 1278.0 583.8 1275.2 584.0 1272.0C584.2 1268.8 582.5 1265.0 581.0 1262.0C579.5 1259.0 576.7 1256.4 575.0 1254.0C573.3 1251.6 569.5 1249.0 571.0 1247.5Z" fill="#2a2a2a"/>
<circle cx="534.9" cy="1297.9" r="0.71" fill="#8a8a8a"/>
<circle cx="513.8" cy="1284.1" r="0.61" fill="#8a8a8a"/>
<circle cx="530.2" cy="1293.4" r="0.44" fill="#8a8a8a"/>
<circle cx="516.7" cy="1271.3" r="0.42" fill="#8a8a8a"/>
<circle cx="516.9" cy="1288.2" r="0.35" fill="#8a8a8a"/>
<circle cx="538.0" cy="1269.7" r="0.49" fill="#8a8a8a"/>
<circle cx="545.8" cy="1279.7" r="0.49" fill="#8a8a8a"/>
<circle cx="526.9" cy="1295.3" r="0.38" fill="#8a8a8a"/>
<circle cx="520.5" cy="1286.5" r="0.35" fill="#8a8a8a"/>
<circle cx="519.9" cy="1282.7" r="0.70" fill="#8a8a8a"/>
<circle cx="530.5" cy="1267.9" r="0.49" fill="#8a8a8a"/>
<circle cx="529.9" cy="1274.4" r="0.46" fill="#8a8a8a"/>
<circle cx="533.3" cy="1303.8" r="0.56" fill="#8a8a8a"/>
<circle cx="527.6" cy="1304.7" r="0.41" fill="#8a8a8a"/>
<circle cx="535.3" cy="1301.2" r="0.40" fill="#8a8a8a"/>
<circle cx="524.3" cy="1256.4" r="0.73" fill="#8a8a8a"/>
<circle cx="516.5" cy="1277.7" r="0.80" fill="#8a8a8a"/>
<circle cx="525.4" cy="1280.2" r="0.68" fill="#8a8a8a"/>
<circle cx="526.8" cy="1266.4" r="0.53" fill="#8a8a8a"/>
<circle cx="535.1" cy="1281.0" r="0.50" fill="#8a8a8a"/>
<circle cx="520.2" cy="1301.0" r="0.70" fill="#8a8a8a"/>
<circle cx="538.9" cy="1292.5" r="0.69" fill="#8a8a8a"/>
<circle cx="520.4" cy="1295.3" r="0.48" fill="#8a8a8a"/>
<circle cx="527.2" cy="1299.9" r="0.66" fill="#8a8a8a"/>
<circle cx="536.4" cy="1286.6" r="0.36" fill="#8a8a8a"/>
<circle cx="530.6" cy="1263.5" r="0.65" fill="#8a8a8a"/>
<circle cx="525.9" cy="1303.2" r="0.64" fill="#8a8a8a"/>
<circle cx="536.1" cy="1297.6" r="0.72" fill="#8a8a8a"/>
<circle cx="519.6" cy="1305.0" r="0.74" fill="#8a8a8a"/>
<circle cx="529.6" cy="1257.6" r="0.73" fill="#8a8a8a"/>
<circle cx="538.7" cy="1296.4" r="0.68" fill="#8a8a8a"/>
<circle cx="532.5" cy="1292.6" r="0.54" fill="#8a8a8a"/>
<circle cx="534.9" cy="1300.2" r="0.64" fill="#8a8a8a"/>
<circle cx="509.0" cy="1276.9" r="0.64" fill="#8a8a8a"/>
<circle cx="596.4" cy="1257.5" r="0.35" fill="#8a8a8a"/>
<circle cx="603.2" cy="1266.7" r="0.69" fill="#8a8a8a"/>
<circle cx="592.2" cy="1279.9" r="0.47" fill="#8a8a8a"/>
<circle cx="593.7" cy="1269.7" r="0.66" fill="#8a8a8a"/>
<circle cx="585.3" cy="1270.4" r="0.71" fill="#8a8a8a"/>
<circle cx="600.4" cy="1254.8" r="0.64" fill="#8a8a8a"/>
<circle cx="602.5" cy="1276.7" r="0.71" fill="#8a8a8a"/>
<circle cx="591.7" cy="1272.5" r="0.49" fill="#8a8a8a"/>
<circle cx="596.4" cy="1252.1" r="0.44" fill="#8a8a8a"/>
<circle cx="589.6" cy="1262.6" r="0.53" fill="#8a8a8a"/>
<circle cx="606.4" cy="1263.5" r="0.79" fill="#8a8a8a"/>
<circle cx="597.6" cy="1266.7" r="0.67" fill="#8a8a8a"/>
<circle cx="606.4" cy="1257.7" r="0.57" fill="#8a8a8a"/>
<circle cx="600.4" cy="1261.9" r="0.47" fill="#8a8a8a"/>
<circle cx="587.7" cy="1264.1" r="0.75" fill="#8a8a8a"/>
<circle cx="601.3" cy="1257.8" r="0.56" fill="#8a8a8a"/>
<path d="M556 1285.5L545 1284L538 1280M545 1284L538 1290M538 1280L531 1272M538 1280L528 1281M534 1263L531 1272M538 1290L530 1296" stroke="#cfcfcf" stroke-width="1.5" fill="none" stroke-linecap="round"/>
<circle cx="539.5" cy="1283.5" r="1.5" fill="#0a0a0a"/>
<path d="M506 1277Q516 1278 526 1284M512 1296L520 1292M523 1303L530 1298" stroke="#777" stroke-width="0.8" fill="none"/>
<path d="M572 1284Q580 1280 588 1283Q597 1288 600 1296Q602 1306 596 1316L580 1318L570 1305Z" fill="#c4c4c4"/>
<path d="M588 1300Q596 1292 606 1296Q610 1304 604 1310Q598 1316 590 1316Q584 1310 588 1300Z" fill="#5a5a5a" opacity="0.85"/>
<circle cx="594.4" cy="1295.6" r="0.64" fill="#bdbdbd"/>
<circle cx="587.9" cy="1304.9" r="0.51" fill="#bdbdbd"/>
<circle cx="587.5" cy="1304.2" r="0.37" fill="#bdbdbd"/>
<circle cx="597.3" cy="1293.7" r="0.39" fill="#bdbdbd"/>
<circle cx="597.0" cy="1311.8" r="0.41" fill="#bdbdbd"/>
<circle cx="591.8" cy="1307.1" r="0.78" fill="#bdbdbd"/>
<circle cx="601.0" cy="1301.5" r="0.79" fill="#bdbdbd"/>
<circle cx="587.2" cy="1312.6" r="0.48" fill="#bdbdbd"/>
<circle cx="589.8" cy="1294.8" r="0.49" fill="#bdbdbd"/>
<circle cx="607.2" cy="1296.3" r="0.61" fill="#bdbdbd"/>
<circle cx="602.6" cy="1300.9" r="0.60" fill="#bdbdbd"/>
<circle cx="587.6" cy="1293.4" r="0.44" fill="#bdbdbd"/>
<circle cx="603.7" cy="1302.3" r="0.49" fill="#bdbdbd"/>
<circle cx="601.2" cy="1302.9" r="0.48" fill="#bdbdbd"/>
<circle cx="606.7" cy="1308.8" r="0.46" fill="#bdbdbd"/>
<circle cx="600.9" cy="1304.6" r="0.74" fill="#bdbdbd"/>
<circle cx="605.0" cy="1298.9" r="0.79" fill="#bdbdbd"/>
<circle cx="589.1" cy="1302.0" r="0.69" fill="#bdbdbd"/>
<circle cx="590.0" cy="1303.7" r="0.37" fill="#bdbdbd"/>
<circle cx="603.4" cy="1310.3" r="0.61" fill="#bdbdbd"/>
<circle cx="608.8" cy="1299.5" r="0.66" fill="#bdbdbd"/>
<circle cx="601.5" cy="1305.9" r="0.56" fill="#bdbdbd"/>
<circle cx="607.8" cy="1314.7" r="0.56" fill="#bdbdbd"/>
<circle cx="603.3" cy="1293.5" r="0.67" fill="#bdbdbd"/>
<circle cx="602.8" cy="1315.8" r="0.72" fill="#bdbdbd"/>
<circle cx="593.4" cy="1301.3" r="0.65" fill="#bdbdbd"/>
<path d="M576 1283.5Q583 1281 588 1285M583 1286L590 1289" stroke="#151515" stroke-width="1.8" fill="none" stroke-linecap="round"/>
<circle cx="576" cy="1313" r="0.9" fill="#222"/><circle cx="581" cy="1314" r="0.9" fill="#222"/><circle cx="575" cy="1297" r="0.7" fill="#333"/>
</g></g>
<rect x="564.9" y="1273.1" width="60.1" height="50.2" fill="none" stroke="#f00000" stroke-width="2.4"/>
<text x="556" y="1203.7" font-family="Liberation Serif, serif" font-size="23.4" text-anchor="middle" fill="#efefef" textLength="97" lengthAdjust="spacingAndGlyphs">Inpatient J</text>
<text x="556.4" y="1230.7" font-family="Liberation Serif, serif" font-size="23.4" text-anchor="middle" fill="#efefef" textLength="154.5" lengthAdjust="spacingAndGlyphs">before treatment</text>
<defs><clipPath id="ct4"><circle cx="739.2" cy="1268.4" r="82"/></clipPath><clipPath id="ct4s"><rect x="655.6" y="1185.6" width="167.2" height="165.9"/></clipPath></defs>
<rect x="655.6" y="1185.6" width="167.2" height="165.9" fill="#000"/>
<g clip-path="url(#ct4s)">
<circle cx="739.2" cy="1268.4" r="82" fill="#303030"/>
<g clip-path="url(#ct4)" filter="url(#ctb)">
<path d="M674 1312Q739 1344 806 1312L806 1356L674 1356Z" fill="#1a1a1a"/>
<path d="M678.3 1317Q739.0 1343.8 799.7 1317" stroke="#b0b0b0" stroke-width="1.4" fill="none"/>
<path d="M696.5 1333.2Q739.0 1341.8 781.5 1333.2" stroke="#ececec" stroke-width="1.5" fill="none"/>
<path d="M712.7 1342.5Q740.0 1345.5 763.3 1342.5" stroke="#d0d0d0" stroke-width="2.4" fill="none"/>
<path d="M667.2 1285.7C667.2 1280.7 668.5 1274.1 670.0 1269.0C671.5 1263.9 673.5 1259.5 676.3 1255.3C679.1 1251.1 683.0 1247.0 687.0 1244.0C691.0 1241.0 693.3 1238.1 700.6 1237.1C707.9 1236.1 724.5 1237.6 730.9 1238.1C737.3 1238.6 736.6 1239.1 739.0 1240.0C741.4 1240.9 743.1 1243.5 745.1 1243.4C747.1 1243.3 748.6 1240.5 751.0 1239.5C753.4 1238.5 753.1 1237.1 759.2 1237.1C765.3 1237.0 781.0 1237.6 787.5 1239.2C794.0 1240.8 795.0 1243.5 798.0 1246.5C801.0 1249.5 803.5 1253.3 805.7 1257.4C807.9 1261.5 809.8 1266.3 811.0 1271.0C812.2 1275.7 813.3 1280.7 812.8 1285.7C812.3 1290.7 810.2 1296.3 808.0 1301.0C805.8 1305.7 803.2 1310.7 799.7 1314.0C796.2 1317.3 791.7 1319.2 787.0 1321.0C782.3 1322.8 779.4 1323.9 771.4 1325.1C763.4 1326.3 749.8 1328.4 739.0 1328.2C728.2 1328.0 714.6 1325.6 706.6 1324.1C698.6 1322.6 695.7 1321.0 691.0 1319.0C686.3 1317.0 681.8 1315.3 678.3 1312.0C674.8 1308.7 671.9 1303.4 670.0 1299.0C668.1 1294.6 667.2 1290.7 667.2 1285.7Z" fill="#d0d0d0"/>
<path d="M667.2 1285.7C667.2 1280.7 668.5 1274.1 670.0 1269.0C671.5 1263.9 673.5 1259.5 676.3 1255.3C679.1 1251.1 683.0 1247.0 687.0 1244.0C691.0 1241.0 693.3 1238.1 700.6 1237.1C707.9 1236.1 724.5 1237.6 730.9 1238.1C737.3 1238.6 736.6 1239.1 739.0 1240.0C741.4 1240.9 743.1 1243.5 745.1 1243.4C747.1 1243.3 748.6 1240.5 751.0 1239.5C753.4 1238.5 753.1 1237.1 759.2 1237.1C765.3 1237.0 781.0 1237.6 787.5 1239.2C794.0 1240.8 795.0 1243.5 798.0 1246.5C801.0 1249.5 803.5 1253.3 805.7 1257.4C807.9 1261.5 809.8 1266.3 811.0 1271.0C812.2 1275.7 813.3 1280.7 812.8 1285.7C812.3 1290.7 810.2 1296.3 808.0 1301.0C805.8 1305.7 803.2 1310.7 799.7 1314.0C796.2 1317.3 791.7 1319.2 787.0 1321.0C782.3 1322.8 779.4 1323.9 771.4 1325.1C763.4 1326.3 749.8 1328.4 739.0 1328.2C728.2 1328.0 714.6 1325.6 706.6 1324.1C698.6 1322.6 695.7 1321.0 691.0 1319.0C686.3 1317.0 681.8 1315.3 678.3 1312.0C674.8 1308.7 671.9 1303.4 670.0 1299.0C668.1 1294.6 667.2 1290.7 667.2 1285.7Z" fill="none" stroke="#dcdcdc" stroke-width="3" opacity="0.55" transform="translate(739.8 1282.6) scale(0.93 0.91) translate(-739.8 -1282.6)"/>
<ellipse cx="739" cy="1302" rx="6" ry="6.5" fill="#e6e6e6"/>
<path d="M685.4 1281.6C685.6 1277.6 686.5 1272.7 688.0 1269.0C689.5 1265.3 692.0 1262.2 694.5 1259.4C697.0 1256.6 700.0 1253.8 703.0 1252.0C706.0 1250.2 708.7 1248.8 712.7 1248.3C716.7 1247.8 722.6 1248.2 727.0 1249.0C731.4 1249.8 738.0 1251.3 739.0 1253.3C740.0 1255.3 734.4 1258.3 733.0 1261.0C731.6 1263.7 730.7 1266.7 730.9 1269.5C731.1 1272.3 732.6 1275.3 734.0 1278.0C735.4 1280.7 738.7 1282.8 739.0 1285.7C739.3 1288.6 737.4 1292.5 736.0 1295.5C734.6 1298.5 733.1 1301.3 730.9 1303.9C728.7 1306.5 726.0 1309.3 723.0 1311.0C720.0 1312.7 716.3 1314.1 712.7 1314.0C709.1 1313.9 704.9 1312.2 701.5 1310.5C698.1 1308.8 694.9 1306.8 692.5 1303.9C690.1 1301.0 688.2 1296.7 687.0 1293.0C685.8 1289.3 685.2 1285.6 685.4 1281.6Z" fill="#2a2a2a"/>
<path d="M756.0 1251.5C756.8 1250.2 760.3 1250.1 763.3 1250.3C766.3 1250.5 770.3 1251.3 774.0 1252.5C777.7 1253.7 782.3 1255.1 785.5 1257.4C788.7 1259.7 791.1 1263.1 793.0 1266.5C794.9 1269.9 796.6 1273.8 797.0 1277.6C797.4 1281.4 796.7 1285.8 795.5 1289.5C794.3 1293.2 792.4 1297.2 790.0 1299.8C787.6 1302.4 784.1 1304.0 781.0 1305.0C777.9 1306.0 774.2 1307.2 771.4 1305.9C768.6 1304.6 766.4 1300.4 764.0 1297.0C761.6 1293.6 757.4 1289.0 757.2 1285.7C757.0 1282.4 761.8 1280.4 763.0 1277.0C764.2 1273.6 765.2 1268.7 764.5 1265.5C763.8 1262.3 759.9 1260.3 758.5 1258.0C757.1 1255.7 755.2 1252.8 756.0 1251.5Z" fill="#2a2a2a"/>
<circle cx="719.7" cy="1278.3" r="0.55" fill="#8a8a8a"/>
<circle cx="711.7" cy="1260.7" r="0.72" fill="#8a8a8a"/>
<circle cx="705.4" cy="1291.6" r="0.50" fill="#8a8a8a"/>
<circle cx="722.3" cy="1280.8" r="0.64" fill="#8a8a8a"/>
<circle cx="716.3" cy="1296.1" r="0.75" fill="#8a8a8a"/>
<circle cx="700.4" cy="1271.5" r="0.75" fill="#8a8a8a"/>
<circle cx="730.5" cy="1281.2" r="0.44" fill="#8a8a8a"/>
<circle cx="693.1" cy="1282.9" r="0.58" fill="#8a8a8a"/>
<circle cx="712.4" cy="1294.3" r="0.45" fill="#8a8a8a"/>
<circle cx="703.5" cy="1265.6" r="0.54" fill="#8a8a8a"/>
<circle cx="705.4" cy="1303.1" r="0.75" fill="#8a8a8a"/>
<circle cx="694.5" cy="1274.2" r="0.42" fill="#8a8a8a"/>
<circle cx="726.3" cy="1270.6" r="0.43" fill="#8a8a8a"/>
<circle cx="708.5" cy="1263.3" r="0.53" fill="#8a8a8a"/>
<circle cx="709.1" cy="1275.6" r="0.61" fill="#8a8a8a"/>
<circle cx="713.1" cy="1271.8" r="0.71" fill="#8a8a8a"/>
<circle cx="712.3" cy="1294.7" r="0.79" fill="#8a8a8a"/>
<circle cx="692.6" cy="1273.5" r="0.61" fill="#8a8a8a"/>
<circle cx="725.2" cy="1271.2" r="0.78" fill="#8a8a8a"/>
<circle cx="716.3" cy="1259.7" r="0.79" fill="#8a8a8a"/>
<circle cx="717.7" cy="1280.8" r="0.56" fill="#8a8a8a"/>
<circle cx="716.4" cy="1277.9" r="0.41" fill="#8a8a8a"/>
<circle cx="708.7" cy="1295.9" r="0.67" fill="#8a8a8a"/>
<circle cx="710.5" cy="1274.0" r="0.51" fill="#8a8a8a"/>
<circle cx="724.2" cy="1294.7" r="0.63" fill="#8a8a8a"/>
<circle cx="712.1" cy="1294.5" r="0.44" fill="#8a8a8a"/>
<circle cx="697.4" cy="1282.7" r="0.68" fill="#8a8a8a"/>
<circle cx="701.0" cy="1284.1" r="0.79" fill="#8a8a8a"/>
<circle cx="727.3" cy="1267.5" r="0.73" fill="#8a8a8a"/>
<circle cx="695.6" cy="1272.4" r="0.78" fill="#8a8a8a"/>
<circle cx="700.7" cy="1288.5" r="0.73" fill="#8a8a8a"/>
<circle cx="717.7" cy="1271.9" r="0.54" fill="#8a8a8a"/>
<circle cx="711.5" cy="1282.9" r="0.73" fill="#8a8a8a"/>
<circle cx="724.6" cy="1265.9" r="0.54" fill="#8a8a8a"/>
<circle cx="774.2" cy="1269.3" r="0.41" fill="#8a8a8a"/>
<circle cx="771.3" cy="1285.5" r="0.55" fill="#8a8a8a"/>
<circle cx="778.7" cy="1288.9" r="0.52" fill="#8a8a8a"/>
<circle cx="768.2" cy="1284.0" r="0.68" fill="#8a8a8a"/>
<circle cx="771.3" cy="1275.1" r="0.36" fill="#8a8a8a"/>
<circle cx="771.9" cy="1282.3" r="0.39" fill="#8a8a8a"/>
<circle cx="778.3" cy="1259.5" r="0.62" fill="#8a8a8a"/>
<circle cx="777.4" cy="1280.7" r="0.42" fill="#8a8a8a"/>
<circle cx="781.6" cy="1279.9" r="0.70" fill="#8a8a8a"/>
<circle cx="773.8" cy="1270.7" r="0.79" fill="#8a8a8a"/>
<circle cx="786.0" cy="1267.1" r="0.55" fill="#8a8a8a"/>
<circle cx="775.4" cy="1285.8" r="0.46" fill="#8a8a8a"/>
<circle cx="783.8" cy="1271.8" r="0.45" fill="#8a8a8a"/>
<circle cx="770.9" cy="1283.7" r="0.43" fill="#8a8a8a"/>
<path d="M739 1285.5L729 1284.5L722 1281M729 1284.5L722 1291M722 1281L716 1273M722 1281L712 1282M718 1264L716 1273M722 1291L715 1297" stroke="#cfcfcf" stroke-width="1.5" fill="none" stroke-linecap="round"/>
<circle cx="723.5" cy="1284" r="1.5" fill="#0a0a0a"/>
<path d="M757 1286Q764 1289 769 1296Q776 1298 782 1303L778 1316L760 1318L752 1300Z" fill="#c6c6c6"/>
<path d="M768 1300Q776 1299 777 1306Q776 1313 768 1314Q765 1307 768 1300Z" fill="#6a6a6a" opacity="0.9"/>
<circle cx="757.5" cy="1289.5" r="1.3" fill="#111"/><circle cx="760" cy="1288" r="1" fill="#111"/><path d="M765 1296L771 1297.5M766 1291L772 1292" stroke="#151515" stroke-width="1.6" stroke-linecap="round"/>
</g></g>
<rect x="738.8" y="1273.1" width="60.1" height="50.2" fill="none" stroke="#f00000" stroke-width="2.4"/>
<text x="740.3" y="1205.6" font-family="Liberation Serif, serif" font-size="23.4" text-anchor="middle" fill="#efefef" textLength="97" lengthAdjust="spacingAndGlyphs">Inpatient J</text>
<text x="741.2" y="1232.6" font-family="Liberation Serif, serif" font-size="23.4" text-anchor="middle" fill="#efefef" textLength="137.5" lengthAdjust="spacingAndGlyphs">after treatment</text>
</svg>
</body></html>
